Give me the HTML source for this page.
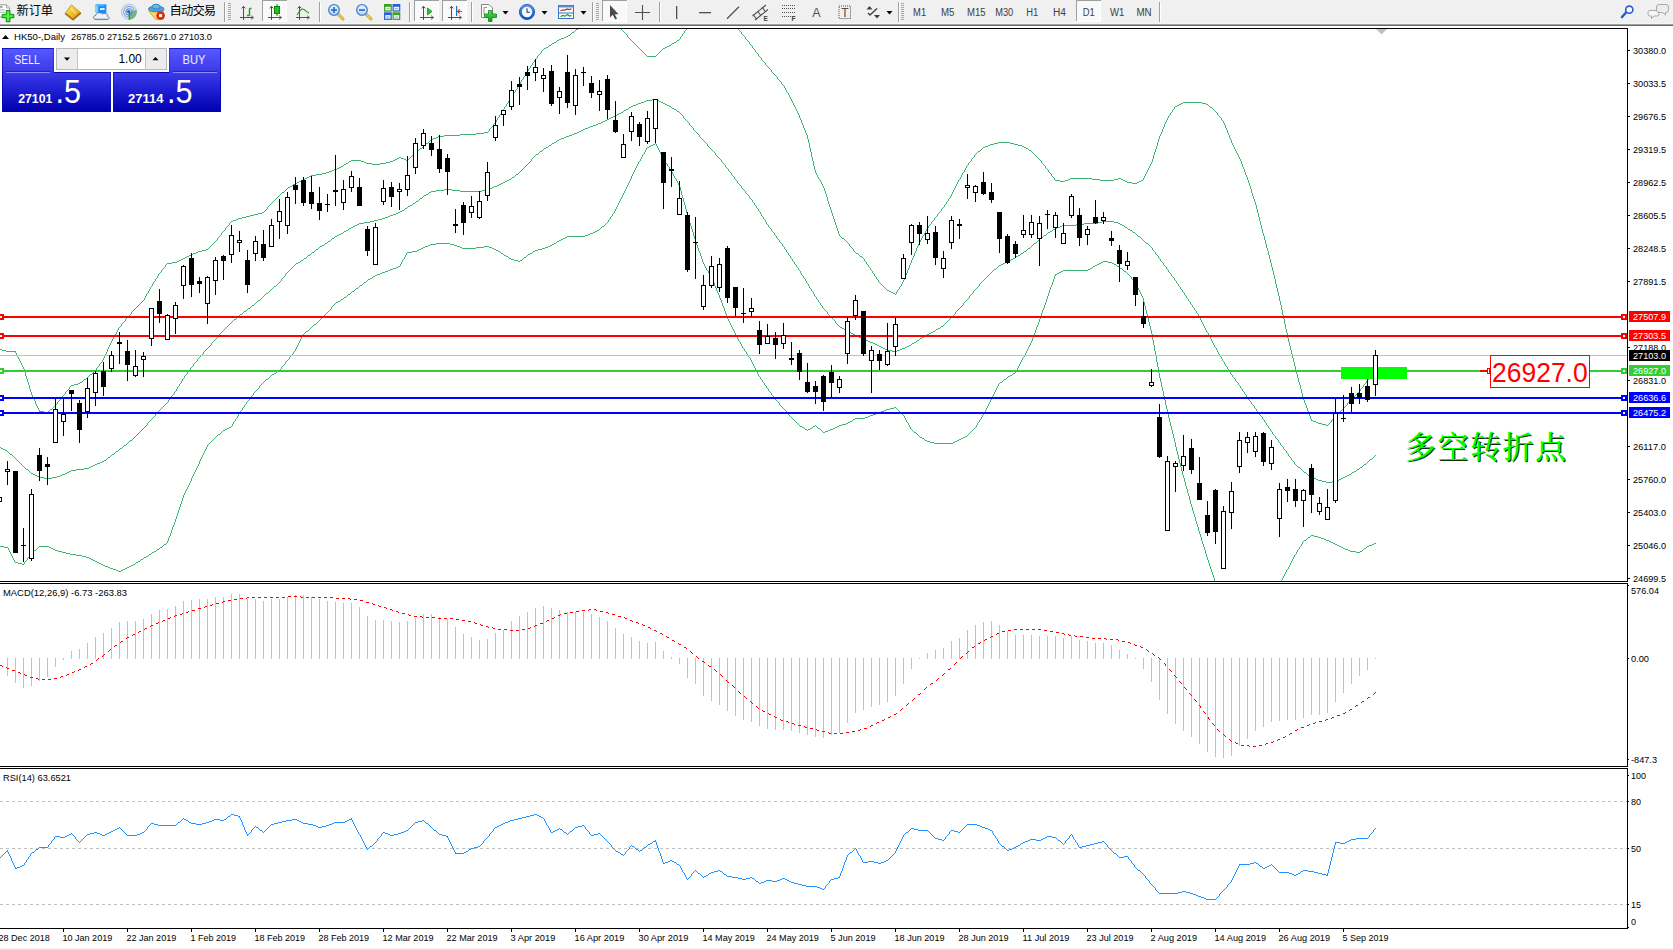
<!DOCTYPE html>
<html><head><meta charset="utf-8"><title>HK50-,Daily</title>
<style>
html,body{margin:0;padding:0;background:#fff;}
body{width:1673px;height:950px;overflow:hidden;}
svg{display:block;font-family:"Liberation Sans","Noto Sans CJK SC",sans-serif;}
text{white-space:pre;}
</style></head><body>
<svg width="1673" height="950" viewBox="0 0 1673 950">
<defs>
<clipPath id="cpMain"><rect x="0" y="29" width="1627" height="552"/></clipPath>

<linearGradient id="gBlueBall" x1="0" y1="0" x2="0" y2="1"><stop offset="0" stop-color="#5aa0f0"/><stop offset="1" stop-color="#0a4fc0"/></linearGradient>
<linearGradient id="gGold" x1="0" y1="0" x2="1" y2="1"><stop offset="0" stop-color="#ffe870"/><stop offset="0.5" stop-color="#f2c030"/><stop offset="1" stop-color="#d09010"/></linearGradient>
<linearGradient id="gGreen" x1="0" y1="0" x2="0" y2="1"><stop offset="0" stop-color="#5fe05f"/><stop offset="1" stop-color="#109a10"/></linearGradient>
<linearGradient id="gLens" x1="0" y1="0" x2="0" y2="1"><stop offset="0" stop-color="#eaf4ff"/><stop offset="1" stop-color="#b8d6f5"/></linearGradient>


<linearGradient id="gBtn" x1="0" y1="0" x2="0" y2="1"><stop offset="0" stop-color="#5858ff"/><stop offset="1" stop-color="#3838e6"/></linearGradient>
<linearGradient id="gPrice" x1="0" y1="0" x2="0" y2="1"><stop offset="0" stop-color="#3a3aea"/><stop offset="0.5" stop-color="#1c1cd0"/><stop offset="1" stop-color="#0000b0"/></linearGradient>

</defs>
<rect x="0" y="0" width="1673" height="950" fill="#fff"/>
<g clip-path="url(#cpMain)" fill="none" stroke="#3cb371" stroke-width="1" shape-rendering="crispEdges">
<path d="M716 12.5h4M710 13.5h6M720 13.5h2M706 14.5h4M722 14.5h1M703 15.5h3M723 15.5h1M701 16.5h2M724 16.5h2M700 17.5h1M726 17.5h1M604 18.5h4M698 18.5h2M727 18.5h1M596 19.5h8M608 19.5h2M696 19.5h2M728 19.5h1M591 20.5h5M610 20.5h1M695 20.5h1M729 20.5h1M589 21.5h2M611 21.5h1M694 21.5h1M730 21.5h2M587 22.5h2M612 22.5h2M693 22.5h1M732 22.5h1M585 23.5h2M614 23.5h1M692 23.5h1M733 23.5h1M583 24.5h2M615 24.5h1M690 24.5h2M734 24.5h1M582 25.5h1M616 25.5h1M689 25.5h1M735 25.5h1M580 26.5h2M617 26.5h1M688 26.5h1M736 26.5h1M579 27.5h1M618 27.5h2M687 27.5h1M737 27.5h1M578 28.5h1M620 28.5h1M686 28.5h1M737 28.5h1M576 29.5h2M621 29.5h1M686 29.5h1M738 29.5h1M575 30.5h1M622 30.5h1M685 30.5h1M739 30.5h1M574 31.5h1M623 31.5h1M684 31.5h1M740 31.5h1M572 32.5h2M624 32.5h1M684 32.5h1M741 32.5h1M571 33.5h1M625 33.5h1M683 33.5h1M741 33.5h1M570 34.5h1M626 34.5h1M682 34.5h1M742 34.5h1M568 35.5h2M627 35.5h1M682 35.5h1M743 35.5h1M566 36.5h2M627 36.5h1M681 36.5h1M744 36.5h1M564 37.5h2M628 37.5h1M680 37.5h1M745 37.5h1M561 38.5h3M629 38.5h1M680 38.5h1M745 38.5h1M559 39.5h2M630 39.5h1M679 39.5h1M746 39.5h1M557 40.5h2M631 40.5h1M677 40.5h2M747 40.5h1M556 41.5h1M632 41.5h1M676 41.5h1M748 41.5h1M554 42.5h2M633 42.5h1M674 42.5h2M749 42.5h1M552 43.5h2M634 43.5h1M672 43.5h2M749 43.5h1M551 44.5h1M635 44.5h1M671 44.5h1M750 44.5h1M549 45.5h2M636 45.5h1M669 45.5h2M751 45.5h1M548 46.5h1M637 46.5h1M667 46.5h2M752 46.5h1M546 47.5h2M638 47.5h1M665 47.5h2M752 47.5h1M544 48.5h2M639 48.5h1M663 48.5h2M753 48.5h1M543 49.5h1M640 49.5h1M662 49.5h1M754 49.5h1M542 50.5h1M641 50.5h1M661 50.5h1M755 50.5h1M541 51.5h1M642 51.5h1M660 51.5h1M755 51.5h1M541 52.5h1M643 52.5h1M659 52.5h1M756 52.5h1M540 53.5h1M644 53.5h1M658 53.5h1M757 53.5h1M539 54.5h1M645 54.5h1M657 54.5h1M758 54.5h1M538 55.5h1M646 55.5h1M656 55.5h1M758 55.5h1M537 56.5h1M647 56.5h9M759 56.5h1M537 57.5h1M760 57.5h1M536 58.5h1M761 58.5h1M535 59.5h1M761 59.5h1M534 60.5h1M762 60.5h1M534 61.5h1M763 61.5h1M533 62.5h1M764 62.5h1M532 63.5h1M765 63.5h1M532 64.5h1M765 64.5h1M531 65.5h1M766 65.5h1M530 66.5h1M767 66.5h1M530 67.5h1M768 67.5h1M529 68.5h1M769 68.5h1M528 69.5h1M770 69.5h1M528 70.5h1M771 70.5h1M527 71.5h1M771 71.5h1M526 72.5h1M772 72.5h1M526 73.5h1M773 73.5h1M525 74.5h1M774 74.5h1M525 75.5h1M775 75.5h1M524 76.5h1M776 76.5h1M523 77.5h1M777 77.5h1M523 78.5h1M777 78.5h1M522 79.5h1M778 79.5h1M521 80.5h1M779 80.5h1M521 81.5h1M780 81.5h1M520 82.5h1M781 82.5h1M520 83.5h1M781 83.5h1M519 84.5h1M782 84.5h1M518 85.5h1M783 85.5h1M518 86.5h1M784 86.5h1M517 87.5h1M784 87.5h1M517 88.5h1M785 88.5h1M516 89.5h1M785 89.5h1M515 90.5h1M786 90.5h1M515 91.5h1M786 91.5h1M514 92.5h1M787 92.5h1M513 93.5h1M788 93.5h1M513 94.5h1M788 94.5h1M512 95.5h1M789 95.5h1M512 96.5h1M789 96.5h1M511 97.5h1M790 97.5h1M510 98.5h1M790 98.5h1M510 99.5h1M791 99.5h1M509 100.5h1M791 100.5h1M508 101.5h1M792 101.5h1M508 102.5h1M792 102.5h1M1183 102.5h19M507 103.5h1M793 103.5h1M1181 103.5h2M1202 103.5h4M506 104.5h1M793 104.5h1M1179 104.5h2M1206 104.5h2M506 105.5h1M794 105.5h1M1177 105.5h2M1208 105.5h1M505 106.5h1M794 106.5h1M1175 106.5h2M1209 106.5h1M504 107.5h1M795 107.5h1M1174 107.5h1M1210 107.5h2M504 108.5h1M795 108.5h1M1174 108.5h1M1212 108.5h1M503 109.5h1M796 109.5h1M1173 109.5h1M1213 109.5h1M502 110.5h1M796 110.5h1M1172 110.5h1M1214 110.5h1M502 111.5h1M797 111.5h1M1172 111.5h1M1215 111.5h1M501 112.5h1M797 112.5h1M1171 112.5h1M1216 112.5h1M501 113.5h1M798 113.5h1M1170 113.5h1M1217 113.5h1M500 114.5h1M798 114.5h1M1170 114.5h1M1217 114.5h1M499 115.5h1M799 115.5h1M1169 115.5h1M1218 115.5h1M499 116.5h1M799 116.5h1M1168 116.5h1M1219 116.5h1M498 117.5h1M799 117.5h1M1168 117.5h1M1220 117.5h1M497 118.5h1M800 118.5h1M1167 118.5h1M1221 118.5h1M497 119.5h1M800 119.5h1M1167 119.5h1M1221 119.5h1M496 120.5h1M801 120.5h1M1166 120.5h1M1222 120.5h1M496 121.5h1M801 121.5h1M1166 121.5h1M1223 121.5h1M495 122.5h1M801 122.5h1M1165 122.5h1M1223 122.5h1M494 123.5h1M802 123.5h1M1165 123.5h1M1224 123.5h1M493 124.5h1M802 124.5h1M1164 124.5h1M1224 124.5h1M493 125.5h1M803 125.5h1M1164 125.5h1M1225 125.5h1M492 126.5h1M803 126.5h1M1164 126.5h1M1225 126.5h1M491 127.5h1M803 127.5h1M1163 127.5h1M1225 127.5h1M490 128.5h1M804 128.5h1M1163 128.5h1M1226 128.5h1M489 129.5h1M804 129.5h1M1162 129.5h1M1226 129.5h1M489 130.5h1M805 130.5h1M1162 130.5h1M1227 130.5h1M488 131.5h1M805 131.5h1M1162 131.5h1M1227 131.5h1M484 132.5h4M805 132.5h1M1161 132.5h1M1227 132.5h1M476 133.5h8M806 133.5h1M1161 133.5h1M1228 133.5h1M460 134.5h16M806 134.5h1M1160 134.5h1M1228 134.5h1M444 135.5h16M807 135.5h1M1160 135.5h1M1229 135.5h1M438 136.5h6M807 136.5h1M1159 136.5h1M1229 136.5h1M436 137.5h2M807 137.5h1M1159 137.5h1M1229 137.5h1M433 138.5h3M807 138.5h1M1159 138.5h1M1230 138.5h1M431 139.5h2M808 139.5h1M1158 139.5h1M1230 139.5h1M430 140.5h1M808 140.5h1M1158 140.5h1M1231 140.5h1M429 141.5h1M808 141.5h1M1158 141.5h1M1231 141.5h1M428 142.5h1M808 142.5h1M998 142.5h12M1157 142.5h1M1231 142.5h1M426 143.5h2M809 143.5h1M994 143.5h4M1010 143.5h4M1157 143.5h1M1232 143.5h1M425 144.5h1M809 144.5h1M990 144.5h4M1014 144.5h4M1157 144.5h1M1232 144.5h1M424 145.5h1M809 145.5h1M988 145.5h2M1018 145.5h4M1157 145.5h1M1233 145.5h1M423 146.5h1M809 146.5h1M985 146.5h3M1022 146.5h2M1156 146.5h1M1233 146.5h1M422 147.5h1M809 147.5h1M983 147.5h2M1024 147.5h2M1156 147.5h1M1234 147.5h1M420 148.5h2M810 148.5h1M982 148.5h1M1026 148.5h2M1156 148.5h1M1234 148.5h1M419 149.5h1M810 149.5h1M981 149.5h1M1028 149.5h1M1155 149.5h1M1235 149.5h1M418 150.5h1M810 150.5h1M980 150.5h1M1029 150.5h2M1155 150.5h1M1235 150.5h1M416 151.5h2M810 151.5h1M978 151.5h2M1031 151.5h1M1155 151.5h1M1236 151.5h1M415 152.5h1M811 152.5h1M977 152.5h1M1032 152.5h1M1154 152.5h1M1236 152.5h1M414 153.5h1M811 153.5h1M976 153.5h1M1033 153.5h1M1154 153.5h1M1237 153.5h1M413 154.5h1M811 154.5h1M975 154.5h1M1034 154.5h1M1154 154.5h1M1237 154.5h1M412 155.5h1M811 155.5h1M974 155.5h1M1035 155.5h1M1153 155.5h1M1238 155.5h1M411 156.5h1M811 156.5h1M974 156.5h1M1036 156.5h1M1153 156.5h1M1238 156.5h1M399 157.5h2M410 157.5h1M812 157.5h1M973 157.5h1M1037 157.5h1M1153 157.5h1M1239 157.5h1M397 158.5h2M401 158.5h3M409 158.5h1M812 158.5h1M972 158.5h1M1038 158.5h1M1153 158.5h1M1239 158.5h1M395 159.5h2M404 159.5h2M408 159.5h1M812 159.5h1M971 159.5h1M1039 159.5h1M1152 159.5h1M1240 159.5h1M351 160.5h10M393 160.5h2M406 160.5h2M812 160.5h1M971 160.5h1M1040 160.5h1M1152 160.5h1M1240 160.5h1M349 161.5h2M361 161.5h3M390 161.5h3M813 161.5h1M970 161.5h1M1041 161.5h1M1152 161.5h1M1241 161.5h1M348 162.5h1M364 162.5h2M386 162.5h4M813 162.5h1M969 162.5h1M1041 162.5h1M1151 162.5h1M1241 162.5h1M346 163.5h2M366 163.5h6M380 163.5h6M813 163.5h1M968 163.5h1M1042 163.5h1M1151 163.5h1M1241 163.5h1M344 164.5h2M372 164.5h8M813 164.5h1M968 164.5h1M1043 164.5h1M1150 164.5h1M1242 164.5h1M343 165.5h1M813 165.5h1M967 165.5h1M1044 165.5h1M1150 165.5h1M1242 165.5h1M341 166.5h2M814 166.5h1M966 166.5h1M1045 166.5h1M1149 166.5h1M1242 166.5h1M339 167.5h2M814 167.5h1M966 167.5h1M1045 167.5h1M1149 167.5h1M1243 167.5h1M337 168.5h2M814 168.5h1M965 168.5h1M1046 168.5h1M1148 168.5h1M1243 168.5h1M334 169.5h3M814 169.5h1M965 169.5h1M1047 169.5h1M1148 169.5h1M1244 169.5h1M332 170.5h2M815 170.5h1M964 170.5h1M1048 170.5h1M1147 170.5h1M1244 170.5h1M329 171.5h3M815 171.5h1M964 171.5h1M1048 171.5h1M1147 171.5h1M1244 171.5h1M326 172.5h3M815 172.5h1M963 172.5h1M1049 172.5h1M1146 172.5h1M1245 172.5h1M322 173.5h4M816 173.5h1M962 173.5h1M1050 173.5h1M1146 173.5h1M1245 173.5h1M316 174.5h6M816 174.5h1M962 174.5h1M1051 174.5h1M1145 174.5h1M1245 174.5h1M311 175.5h5M817 175.5h1M961 175.5h1M1051 175.5h1M1145 175.5h1M1246 175.5h1M309 176.5h2M817 176.5h1M961 176.5h1M1052 176.5h1M1144 176.5h1M1246 176.5h1M307 177.5h2M818 177.5h1M960 177.5h1M1053 177.5h1M1144 177.5h1M1247 177.5h1M305 178.5h2M818 178.5h1M960 178.5h1M1054 178.5h1M1070 178.5h22M1118 178.5h3M1143 178.5h1M1247 178.5h1M303 179.5h2M819 179.5h1M959 179.5h1M1054 179.5h1M1068 179.5h2M1092 179.5h8M1114 179.5h4M1121 179.5h2M1143 179.5h1M1247 179.5h1M301 180.5h2M820 180.5h1M958 180.5h1M1055 180.5h5M1065 180.5h3M1100 180.5h14M1123 180.5h2M1141 180.5h2M1248 180.5h1M299 181.5h2M820 181.5h1M958 181.5h1M1060 181.5h5M1125 181.5h2M1139 181.5h2M1248 181.5h1M297 182.5h2M821 182.5h1M957 182.5h1M1127 182.5h5M1137 182.5h2M1248 182.5h1M295 183.5h2M821 183.5h1M957 183.5h1M1132 183.5h5M1249 183.5h1M293 184.5h2M822 184.5h1M956 184.5h1M1249 184.5h1M292 185.5h1M822 185.5h1M956 185.5h1M1249 185.5h1M290 186.5h2M823 186.5h1M955 186.5h1M1250 186.5h1M288 187.5h2M823 187.5h1M955 187.5h1M1250 187.5h1M287 188.5h1M824 188.5h1M954 188.5h1M1250 188.5h1M286 189.5h1M824 189.5h1M954 189.5h1M1251 189.5h1M285 190.5h1M824 190.5h1M953 190.5h1M1251 190.5h1M284 191.5h1M825 191.5h1M953 191.5h1M1251 191.5h1M282 192.5h2M825 192.5h1M952 192.5h1M1251 192.5h1M281 193.5h1M825 193.5h1M952 193.5h1M1252 193.5h1M280 194.5h1M826 194.5h1M951 194.5h1M1252 194.5h1M279 195.5h1M826 195.5h1M951 195.5h1M1252 195.5h1M278 196.5h1M826 196.5h1M950 196.5h1M1253 196.5h1M277 197.5h1M827 197.5h1M950 197.5h1M1253 197.5h1M276 198.5h1M827 198.5h1M949 198.5h1M1253 198.5h1M275 199.5h1M827 199.5h1M948 199.5h1M1254 199.5h1M274 200.5h1M827 200.5h1M948 200.5h1M1254 200.5h1M273 201.5h1M828 201.5h1M947 201.5h1M1254 201.5h1M272 202.5h1M828 202.5h1M946 202.5h1M1255 202.5h1M271 203.5h1M828 203.5h1M946 203.5h1M1255 203.5h1M270 204.5h1M829 204.5h1M945 204.5h1M1255 204.5h1M269 205.5h1M829 205.5h1M944 205.5h1M1256 205.5h1M268 206.5h1M829 206.5h1M944 206.5h1M1256 206.5h1M267 207.5h1M830 207.5h1M943 207.5h1M1256 207.5h1M267 208.5h1M830 208.5h1M942 208.5h1M1256 208.5h1M266 209.5h1M830 209.5h1M941 209.5h1M1257 209.5h1M265 210.5h1M831 210.5h1M941 210.5h1M1257 210.5h1M264 211.5h1M831 211.5h1M940 211.5h1M1257 211.5h1M262 212.5h2M831 212.5h1M939 212.5h1M1257 212.5h1M258 213.5h4M832 213.5h1M938 213.5h1M1258 213.5h1M254 214.5h4M832 214.5h1M937 214.5h1M1258 214.5h1M250 215.5h4M832 215.5h1M937 215.5h1M1258 215.5h1M246 216.5h4M833 216.5h1M936 216.5h1M1258 216.5h1M242 217.5h4M833 217.5h1M935 217.5h1M1259 217.5h1M238 218.5h4M833 218.5h1M934 218.5h1M1259 218.5h1M236 219.5h2M834 219.5h1M934 219.5h1M1259 219.5h1M233 220.5h3M834 220.5h1M933 220.5h1M1259 220.5h1M231 221.5h2M834 221.5h1M932 221.5h1M1260 221.5h1M230 222.5h1M835 222.5h1M931 222.5h1M1260 222.5h1M229 223.5h1M835 223.5h1M931 223.5h1M1260 223.5h1M229 224.5h1M835 224.5h1M930 224.5h1M1260 224.5h1M228 225.5h1M836 225.5h1M929 225.5h1M1261 225.5h1M227 226.5h1M836 226.5h1M928 226.5h1M1261 226.5h1M226 227.5h1M836 227.5h1M928 227.5h1M1261 227.5h1M225 228.5h1M837 228.5h1M927 228.5h1M1261 228.5h1M225 229.5h1M837 229.5h1M926 229.5h1M1262 229.5h1M224 230.5h1M837 230.5h1M926 230.5h1M1262 230.5h1M223 231.5h1M838 231.5h1M925 231.5h1M1262 231.5h1M222 232.5h1M838 232.5h1M925 232.5h1M1262 232.5h1M221 233.5h1M838 233.5h1M924 233.5h1M1263 233.5h1M221 234.5h1M839 234.5h1M924 234.5h1M1263 234.5h1M220 235.5h1M839 235.5h1M923 235.5h1M1263 235.5h1M219 236.5h1M840 236.5h1M922 236.5h1M1264 236.5h1M218 237.5h1M841 237.5h1M922 237.5h1M1264 237.5h1M217 238.5h1M842 238.5h2M921 238.5h1M1264 238.5h1M217 239.5h1M844 239.5h1M921 239.5h1M1264 239.5h1M216 240.5h1M845 240.5h1M920 240.5h1M1265 240.5h1M215 241.5h1M846 241.5h1M920 241.5h1M1265 241.5h1M214 242.5h1M847 242.5h1M919 242.5h1M1265 242.5h1M213 243.5h1M848 243.5h1M919 243.5h1M1265 243.5h1M212 244.5h1M849 244.5h1M918 244.5h1M1266 244.5h1M211 245.5h1M849 245.5h1M918 245.5h1M1266 245.5h1M210 246.5h1M850 246.5h1M917 246.5h1M1266 246.5h1M209 247.5h1M851 247.5h1M917 247.5h1M1266 247.5h1M208 248.5h1M852 248.5h1M916 248.5h1M1267 248.5h1M206 249.5h2M853 249.5h1M916 249.5h1M1267 249.5h1M202 250.5h4M853 250.5h1M916 250.5h1M1267 250.5h1M198 251.5h4M854 251.5h1M915 251.5h1M1268 251.5h1M196 252.5h2M855 252.5h1M915 252.5h1M1268 252.5h1M193 253.5h3M856 253.5h2M914 253.5h1M1268 253.5h1M191 254.5h2M858 254.5h1M914 254.5h1M1268 254.5h1M189 255.5h2M859 255.5h1M914 255.5h1M1269 255.5h1M187 256.5h2M860 256.5h2M913 256.5h1M1269 256.5h1M185 257.5h2M862 257.5h1M913 257.5h1M1269 257.5h1M183 258.5h2M863 258.5h1M912 258.5h1M1269 258.5h1M181 259.5h2M864 259.5h1M912 259.5h1M1270 259.5h1M179 260.5h2M864 260.5h1M911 260.5h1M1270 260.5h1M177 261.5h2M865 261.5h1M911 261.5h1M1270 261.5h1M172 262.5h5M866 262.5h1M911 262.5h1M1270 262.5h1M167 263.5h5M866 263.5h1M910 263.5h1M1271 263.5h1M166 264.5h1M867 264.5h1M910 264.5h1M1271 264.5h1M165 265.5h1M868 265.5h1M909 265.5h1M1271 265.5h1M165 266.5h1M868 266.5h1M909 266.5h1M1271 266.5h1M164 267.5h1M869 267.5h1M909 267.5h1M1272 267.5h1M163 268.5h1M870 268.5h1M908 268.5h1M1272 268.5h1M162 269.5h1M870 269.5h1M908 269.5h1M1272 269.5h1M161 270.5h1M871 270.5h1M907 270.5h1M1272 270.5h1M161 271.5h1M872 271.5h1M907 271.5h1M1273 271.5h1M160 272.5h1M872 272.5h1M907 272.5h1M1273 272.5h1M159 273.5h1M873 273.5h1M906 273.5h1M1273 273.5h1M158 274.5h1M874 274.5h1M906 274.5h1M1273 274.5h1M158 275.5h1M874 275.5h1M905 275.5h1M1274 275.5h1M157 276.5h1M875 276.5h1M905 276.5h1M1274 276.5h1M157 277.5h1M876 277.5h1M905 277.5h1M1274 277.5h1M156 278.5h1M876 278.5h1M904 278.5h1M1274 278.5h1M155 279.5h1M877 279.5h1M904 279.5h1M1275 279.5h1M155 280.5h1M878 280.5h1M903 280.5h1M1275 280.5h1M154 281.5h1M878 281.5h1M903 281.5h1M1275 281.5h1M153 282.5h1M879 282.5h1M902 282.5h1M1275 282.5h1M153 283.5h1M880 283.5h1M902 283.5h1M1275 283.5h1M152 284.5h1M881 284.5h1M901 284.5h1M1276 284.5h1M152 285.5h1M882 285.5h1M901 285.5h1M1276 285.5h1M151 286.5h1M883 286.5h1M900 286.5h1M1276 286.5h1M150 287.5h1M884 287.5h1M899 287.5h1M1276 287.5h1M150 288.5h1M885 288.5h1M899 288.5h1M1277 288.5h1M149 289.5h1M886 289.5h1M898 289.5h1M1277 289.5h1M149 290.5h1M887 290.5h2M897 290.5h1M1277 290.5h1M148 291.5h1M889 291.5h2M897 291.5h1M1277 291.5h1M148 292.5h1M891 292.5h2M896 292.5h1M1278 292.5h1M147 293.5h1M893 293.5h2M896 293.5h1M1278 293.5h1M146 294.5h1M895 294.5h1M1278 294.5h1M146 295.5h1M1278 295.5h1M145 296.5h1M1279 296.5h1M145 297.5h1M1279 297.5h1M144 298.5h1M1279 298.5h1M144 299.5h1M1279 299.5h1M143 300.5h1M1279 300.5h1M142 301.5h1M1280 301.5h1M141 302.5h1M1280 302.5h1M140 303.5h1M1280 303.5h1M139 304.5h1M1280 304.5h1M138 305.5h1M1281 305.5h1M137 306.5h1M1281 306.5h1M136 307.5h1M1281 307.5h1M135 308.5h1M1281 308.5h1M134 309.5h1M1281 309.5h1M133 310.5h1M1282 310.5h1M132 311.5h1M1282 311.5h1M131 312.5h1M1282 312.5h1M131 313.5h1M1282 313.5h1M130 314.5h1M1282 314.5h1M129 315.5h1M1283 315.5h1M128 316.5h1M1283 316.5h1M127 317.5h1M1283 317.5h1M126 318.5h1M1283 318.5h1M125 319.5h1M1284 319.5h1M125 320.5h1M1284 320.5h1M124 321.5h1M1284 321.5h1M123 322.5h1M1284 322.5h1M122 323.5h1M1284 323.5h1M121 324.5h1M1285 324.5h1M121 325.5h1M1285 325.5h1M120 326.5h1M1285 326.5h1M119 327.5h1M1285 327.5h1M118 328.5h1M1285 328.5h1M118 329.5h1M1286 329.5h1M117 330.5h1M1286 330.5h1M117 331.5h1M1286 331.5h1M116 332.5h1M1286 332.5h1M116 333.5h1M1287 333.5h1M115 334.5h1M1287 334.5h1M114 335.5h1M1287 335.5h1M114 336.5h1M1287 336.5h1M113 337.5h1M1287 337.5h1M113 338.5h1M1288 338.5h1M112 339.5h1M1288 339.5h1M112 340.5h1M1288 340.5h1M111 341.5h1M1288 341.5h1M111 342.5h1M1289 342.5h1M110 343.5h1M1289 343.5h1M110 344.5h1M1289 344.5h1M109 345.5h1M1289 345.5h1M109 346.5h1M1290 346.5h1M108 347.5h1M1290 347.5h1M108 348.5h1M1290 348.5h1M-1 349.5h3M107 349.5h1M1290 349.5h1M2 350.5h4M107 350.5h1M1291 350.5h1M6 351.5h10M107 351.5h1M1291 351.5h1M15 352.5h1M106 352.5h1M1291 352.5h1M16 353.5h1M106 353.5h1M1291 353.5h1M16 354.5h1M105 354.5h1M1292 354.5h1M17 355.5h1M105 355.5h1M1292 355.5h1M17 356.5h1M104 356.5h1M1292 356.5h1M18 357.5h1M104 357.5h1M1292 357.5h1M18 358.5h1M103 358.5h1M1293 358.5h1M19 359.5h1M103 359.5h1M1293 359.5h1M19 360.5h1M102 360.5h1M1293 360.5h1M20 361.5h1M102 361.5h1M1293 361.5h1M20 362.5h1M101 362.5h1M1294 362.5h1M21 363.5h1M100 363.5h1M1294 363.5h1M21 364.5h1M99 364.5h1M1294 364.5h1M22 365.5h1M99 365.5h1M1294 365.5h1M22 366.5h1M98 366.5h1M1295 366.5h1M23 367.5h1M97 367.5h1M1295 367.5h1M23 368.5h1M96 368.5h1M1295 368.5h1M24 369.5h1M96 369.5h1M1295 369.5h1M24 370.5h1M95 370.5h1M1296 370.5h1M1375 370.5h1M24 371.5h1M94 371.5h1M1296 371.5h1M1374 371.5h1M25 372.5h1M93 372.5h1M1296 372.5h1M1373 372.5h1M25 373.5h1M92 373.5h1M1296 373.5h1M1373 373.5h1M25 374.5h1M90 374.5h2M1297 374.5h1M1372 374.5h1M25 375.5h1M89 375.5h1M1297 375.5h1M1371 375.5h1M26 376.5h1M88 376.5h1M1297 376.5h1M1370 376.5h1M26 377.5h1M87 377.5h1M1297 377.5h1M1369 377.5h1M26 378.5h1M86 378.5h1M1298 378.5h1M1369 378.5h1M27 379.5h1M84 379.5h2M1298 379.5h1M1368 379.5h1M27 380.5h1M83 380.5h1M1298 380.5h1M1367 380.5h1M27 381.5h1M82 381.5h1M1298 381.5h1M1366 381.5h1M28 382.5h1M80 382.5h2M1299 382.5h1M1366 382.5h1M28 383.5h1M78 383.5h2M1299 383.5h1M1365 383.5h1M28 384.5h1M74 384.5h4M1299 384.5h1M1364 384.5h1M29 385.5h1M71 385.5h3M1300 385.5h1M1363 385.5h1M29 386.5h1M70 386.5h1M1300 386.5h1M1363 386.5h1M29 387.5h1M69 387.5h1M1300 387.5h1M1362 387.5h1M29 388.5h1M69 388.5h1M1300 388.5h1M1361 388.5h1M30 389.5h1M68 389.5h1M1301 389.5h1M1360 389.5h1M30 390.5h1M67 390.5h1M1301 390.5h1M1360 390.5h1M30 391.5h1M66 391.5h1M1301 391.5h1M1359 391.5h1M31 392.5h1M65 392.5h1M1301 392.5h1M1358 392.5h1M31 393.5h1M65 393.5h1M1302 393.5h1M1357 393.5h1M31 394.5h1M64 394.5h1M1302 394.5h1M1356 394.5h1M32 395.5h1M63 395.5h1M1302 395.5h1M1355 395.5h1M32 396.5h1M62 396.5h1M1302 396.5h1M1354 396.5h1M33 397.5h1M61 397.5h1M1303 397.5h1M1353 397.5h1M33 398.5h1M61 398.5h1M1303 398.5h1M1352 398.5h1M34 399.5h1M60 399.5h1M1303 399.5h1M1351 399.5h1M34 400.5h1M59 400.5h1M1304 400.5h1M1350 400.5h1M35 401.5h1M58 401.5h1M1304 401.5h1M1349 401.5h1M35 402.5h1M57 402.5h1M1304 402.5h1M1348 402.5h1M35 403.5h1M57 403.5h1M1305 403.5h1M1347 403.5h1M36 404.5h1M56 404.5h1M1305 404.5h1M1347 404.5h1M36 405.5h1M55 405.5h1M1306 405.5h1M1346 405.5h1M37 406.5h1M54 406.5h1M1306 406.5h1M1345 406.5h1M37 407.5h1M53 407.5h1M1306 407.5h1M1344 407.5h1M38 408.5h1M52 408.5h1M1307 408.5h1M1343 408.5h1M38 409.5h1M50 409.5h2M1307 409.5h1M1342 409.5h1M39 410.5h1M49 410.5h1M1307 410.5h1M1341 410.5h1M39 411.5h5M48 411.5h1M1308 411.5h1M1340 411.5h1M44 412.5h4M1308 412.5h1M1339 412.5h1M1308 413.5h1M1338 413.5h1M1309 414.5h1M1337 414.5h1M1309 415.5h1M1336 415.5h1M1310 416.5h1M1335 416.5h1M1310 417.5h1M1334 417.5h1M1310 418.5h1M1333 418.5h1M1311 419.5h1M1332 419.5h1M1311 420.5h2M1331 420.5h1M1313 421.5h3M1331 421.5h1M1316 422.5h2M1330 422.5h1M1318 423.5h4M1329 423.5h1M1322 424.5h4M1328 424.5h1M1326 425.5h2"/>
<path d="M652 99.5h5M646 100.5h6M657 100.5h2M644 101.5h2M659 101.5h2M641 102.5h3M661 102.5h2M638 103.5h3M663 103.5h2M636 104.5h2M665 104.5h2M633 105.5h3M667 105.5h2M631 106.5h2M669 106.5h2M629 107.5h2M671 107.5h1M628 108.5h1M672 108.5h2M626 109.5h2M674 109.5h2M624 110.5h2M676 110.5h1M623 111.5h1M677 111.5h2M621 112.5h2M679 112.5h1M619 113.5h2M680 113.5h1M617 114.5h2M681 114.5h1M615 115.5h2M682 115.5h1M613 116.5h2M683 116.5h1M611 117.5h2M683 117.5h1M609 118.5h2M684 118.5h1M607 119.5h2M685 119.5h1M605 120.5h2M686 120.5h1M603 121.5h2M687 121.5h1M601 122.5h2M688 122.5h1M598 123.5h3M689 123.5h1M596 124.5h2M689 124.5h1M593 125.5h3M690 125.5h1M590 126.5h3M691 126.5h1M588 127.5h2M692 127.5h1M585 128.5h3M693 128.5h1M583 129.5h2M693 129.5h1M581 130.5h2M694 130.5h1M579 131.5h2M695 131.5h1M577 132.5h2M696 132.5h1M574 133.5h3M697 133.5h1M572 134.5h2M698 134.5h1M569 135.5h3M699 135.5h1M566 136.5h3M699 136.5h1M564 137.5h2M700 137.5h1M561 138.5h3M701 138.5h1M559 139.5h2M702 139.5h1M557 140.5h2M703 140.5h1M556 141.5h1M704 141.5h1M554 142.5h2M705 142.5h1M552 143.5h2M706 143.5h1M551 144.5h1M707 144.5h1M549 145.5h2M707 145.5h1M548 146.5h1M708 146.5h1M546 147.5h2M709 147.5h1M544 148.5h2M710 148.5h1M543 149.5h1M711 149.5h1M542 150.5h1M712 150.5h1M540 151.5h2M713 151.5h1M539 152.5h1M714 152.5h1M538 153.5h1M715 153.5h1M536 154.5h2M715 154.5h1M535 155.5h1M716 155.5h1M534 156.5h1M717 156.5h1M533 157.5h1M718 157.5h1M532 158.5h1M719 158.5h1M531 159.5h1M720 159.5h1M531 160.5h1M721 160.5h1M530 161.5h1M721 161.5h1M529 162.5h1M722 162.5h1M528 163.5h1M723 163.5h1M527 164.5h1M724 164.5h1M526 165.5h1M725 165.5h1M525 166.5h1M725 166.5h1M524 167.5h1M726 167.5h1M523 168.5h1M727 168.5h1M522 169.5h1M728 169.5h1M521 170.5h1M728 170.5h1M520 171.5h1M729 171.5h1M519 172.5h1M730 172.5h1M518 173.5h1M731 173.5h1M516 174.5h2M731 174.5h1M515 175.5h1M732 175.5h1M514 176.5h1M733 176.5h1M512 177.5h2M734 177.5h1M511 178.5h1M734 178.5h1M509 179.5h2M735 179.5h1M507 180.5h2M736 180.5h1M505 181.5h2M737 181.5h1M503 182.5h2M737 182.5h1M501 183.5h2M738 183.5h1M499 184.5h2M739 184.5h1M497 185.5h2M740 185.5h1M494 186.5h3M741 186.5h1M492 187.5h2M741 187.5h1M489 188.5h3M742 188.5h1M444 189.5h8M486 189.5h3M743 189.5h1M436 190.5h8M452 190.5h8M482 190.5h4M744 190.5h1M431 191.5h5M460 191.5h22M745 191.5h1M429 192.5h2M745 192.5h1M428 193.5h1M746 193.5h1M426 194.5h2M747 194.5h1M424 195.5h2M748 195.5h1M423 196.5h1M749 196.5h1M422 197.5h1M749 197.5h1M420 198.5h2M750 198.5h1M419 199.5h1M751 199.5h1M418 200.5h1M752 200.5h1M416 201.5h2M752 201.5h1M415 202.5h1M753 202.5h1M413 203.5h2M754 203.5h1M412 204.5h1M754 204.5h1M410 205.5h2M755 205.5h1M408 206.5h2M756 206.5h1M407 207.5h1M756 207.5h1M405 208.5h2M757 208.5h1M404 209.5h1M758 209.5h1M402 210.5h2M758 210.5h1M400 211.5h2M759 211.5h1M398 212.5h2M760 212.5h1M396 213.5h2M760 213.5h1M393 214.5h3M761 214.5h1M390 215.5h3M761 215.5h1M388 216.5h2M762 216.5h1M385 217.5h3M763 217.5h1M382 218.5h3M763 218.5h1M378 219.5h4M764 219.5h1M374 220.5h4M765 220.5h1M370 221.5h4M765 221.5h1M1102 221.5h12M364 222.5h6M766 222.5h1M1098 222.5h4M1114 222.5h4M359 223.5h5M766 223.5h1M1084 223.5h14M1118 223.5h2M357 224.5h2M767 224.5h1M1076 224.5h8M1120 224.5h2M355 225.5h2M768 225.5h1M1062 225.5h14M1122 225.5h2M353 226.5h2M768 226.5h1M1060 226.5h2M1124 226.5h1M351 227.5h2M769 227.5h1M1057 227.5h3M1125 227.5h2M349 228.5h2M770 228.5h1M1055 228.5h2M1127 228.5h1M348 229.5h1M771 229.5h1M1053 229.5h2M1128 229.5h2M346 230.5h2M771 230.5h1M1052 230.5h1M1130 230.5h2M344 231.5h2M772 231.5h1M1050 231.5h2M1132 231.5h1M343 232.5h1M773 232.5h1M1048 232.5h2M1133 232.5h2M341 233.5h2M774 233.5h1M1047 233.5h1M1135 233.5h1M339 234.5h2M774 234.5h1M1046 234.5h1M1136 234.5h1M337 235.5h2M775 235.5h1M1044 235.5h2M1137 235.5h1M335 236.5h2M776 236.5h1M1043 236.5h1M1138 236.5h2M334 237.5h1M776 237.5h1M1042 237.5h1M1140 237.5h1M332 238.5h2M777 238.5h1M1040 238.5h2M1141 238.5h1M331 239.5h1M778 239.5h1M1039 239.5h1M1142 239.5h1M330 240.5h1M779 240.5h1M1038 240.5h1M1143 240.5h1M328 241.5h2M779 241.5h1M1037 241.5h1M1144 241.5h1M327 242.5h1M780 242.5h1M1036 242.5h1M1145 242.5h1M325 243.5h2M781 243.5h1M1034 243.5h2M1146 243.5h2M324 244.5h1M782 244.5h1M1033 244.5h1M1148 244.5h1M322 245.5h2M782 245.5h1M1032 245.5h1M1149 245.5h1M320 246.5h2M783 246.5h1M1031 246.5h1M1150 246.5h1M319 247.5h1M784 247.5h1M1030 247.5h1M1151 247.5h1M318 248.5h1M784 248.5h1M1028 248.5h2M1152 248.5h1M316 249.5h2M785 249.5h1M1027 249.5h1M1152 249.5h1M315 250.5h1M786 250.5h1M1026 250.5h1M1153 250.5h1M314 251.5h1M786 251.5h1M1024 251.5h2M1154 251.5h1M312 252.5h2M787 252.5h1M1023 252.5h1M1155 252.5h1M311 253.5h1M788 253.5h1M1021 253.5h2M1155 253.5h1M310 254.5h1M788 254.5h1M1020 254.5h1M1156 254.5h1M308 255.5h2M789 255.5h1M1018 255.5h2M1157 255.5h1M307 256.5h1M790 256.5h1M1016 256.5h2M1158 256.5h1M306 257.5h1M790 257.5h1M1015 257.5h1M1158 257.5h1M304 258.5h2M791 258.5h1M1013 258.5h2M1159 258.5h1M303 259.5h1M792 259.5h1M1011 259.5h2M1160 259.5h1M301 260.5h2M792 260.5h1M1009 260.5h2M1160 260.5h1M300 261.5h1M793 261.5h1M1007 261.5h2M1161 261.5h1M298 262.5h2M794 262.5h1M1005 262.5h2M1162 262.5h1M296 263.5h2M794 263.5h1M1003 263.5h2M1163 263.5h1M295 264.5h1M795 264.5h1M1001 264.5h2M1163 264.5h1M294 265.5h1M796 265.5h1M999 265.5h2M1164 265.5h1M293 266.5h1M796 266.5h1M998 266.5h1M1165 266.5h1M292 267.5h1M797 267.5h1M997 267.5h1M1166 267.5h1M291 268.5h1M798 268.5h1M996 268.5h1M1166 268.5h1M290 269.5h1M798 269.5h1M994 269.5h2M1167 269.5h1M289 270.5h1M799 270.5h1M993 270.5h1M1168 270.5h1M288 271.5h1M800 271.5h1M992 271.5h1M1168 271.5h1M287 272.5h1M800 272.5h1M991 272.5h1M1169 272.5h1M286 273.5h1M801 273.5h1M990 273.5h1M1170 273.5h1M285 274.5h1M801 274.5h1M989 274.5h1M1171 274.5h1M285 275.5h1M802 275.5h1M988 275.5h1M1171 275.5h1M284 276.5h1M803 276.5h1M987 276.5h1M1172 276.5h1M283 277.5h1M803 277.5h1M986 277.5h1M1173 277.5h1M282 278.5h1M804 278.5h1M985 278.5h1M1174 278.5h1M281 279.5h1M805 279.5h1M984 279.5h1M1174 279.5h1M281 280.5h1M805 280.5h1M983 280.5h1M1175 280.5h1M280 281.5h1M806 281.5h1M982 281.5h1M1176 281.5h1M279 282.5h1M806 282.5h1M981 282.5h1M1176 282.5h1M278 283.5h1M807 283.5h1M980 283.5h1M1177 283.5h1M277 284.5h1M808 284.5h1M979 284.5h1M1178 284.5h1M276 285.5h1M808 285.5h1M979 285.5h1M1178 285.5h1M274 286.5h2M809 286.5h1M978 286.5h1M1179 286.5h1M273 287.5h1M809 287.5h1M977 287.5h1M1180 287.5h1M272 288.5h1M810 288.5h1M976 288.5h1M1180 288.5h1M271 289.5h1M811 289.5h1M975 289.5h1M1181 289.5h1M270 290.5h1M811 290.5h1M974 290.5h1M1182 290.5h1M269 291.5h1M812 291.5h1M973 291.5h1M1182 291.5h1M268 292.5h1M813 292.5h1M973 292.5h1M1183 292.5h1M266 293.5h2M813 293.5h1M972 293.5h1M1184 293.5h1M265 294.5h1M814 294.5h1M971 294.5h1M1184 294.5h1M264 295.5h1M814 295.5h1M970 295.5h1M1185 295.5h1M263 296.5h1M815 296.5h1M969 296.5h1M1186 296.5h1M262 297.5h1M816 297.5h1M969 297.5h1M1186 297.5h1M261 298.5h1M816 298.5h1M968 298.5h1M1187 298.5h1M260 299.5h1M817 299.5h1M967 299.5h1M1188 299.5h1M258 300.5h2M818 300.5h1M966 300.5h1M1188 300.5h1M257 301.5h1M818 301.5h1M965 301.5h1M1189 301.5h1M256 302.5h1M819 302.5h1M964 302.5h1M1190 302.5h1M255 303.5h1M820 303.5h1M963 303.5h1M1190 303.5h1M254 304.5h1M820 304.5h1M963 304.5h1M1191 304.5h1M252 305.5h2M821 305.5h1M962 305.5h1M1192 305.5h1M251 306.5h1M822 306.5h1M961 306.5h1M1192 306.5h1M250 307.5h1M822 307.5h1M960 307.5h1M1193 307.5h1M248 308.5h2M823 308.5h1M959 308.5h1M1194 308.5h1M247 309.5h1M824 309.5h1M958 309.5h1M1194 309.5h1M246 310.5h1M825 310.5h1M957 310.5h1M1195 310.5h1M244 311.5h2M826 311.5h1M956 311.5h1M1196 311.5h1M243 312.5h1M827 312.5h1M955 312.5h1M1196 312.5h1M242 313.5h1M827 313.5h1M955 313.5h1M1197 313.5h1M240 314.5h2M828 314.5h1M954 314.5h1M1198 314.5h1M239 315.5h1M829 315.5h1M953 315.5h1M1198 315.5h1M238 316.5h1M830 316.5h1M952 316.5h1M1199 316.5h1M237 317.5h1M831 317.5h1M951 317.5h1M1199 317.5h1M236 318.5h1M832 318.5h1M950 318.5h1M1200 318.5h1M234 319.5h2M833 319.5h1M949 319.5h1M1200 319.5h1M233 320.5h1M834 320.5h1M948 320.5h1M1201 320.5h1M232 321.5h1M835 321.5h1M947 321.5h1M1201 321.5h1M231 322.5h1M835 322.5h1M946 322.5h1M1202 322.5h1M230 323.5h1M836 323.5h1M945 323.5h1M1202 323.5h1M229 324.5h1M837 324.5h1M944 324.5h1M1203 324.5h1M228 325.5h1M838 325.5h1M943 325.5h1M1203 325.5h1M227 326.5h1M839 326.5h1M941 326.5h2M1204 326.5h1M226 327.5h1M840 327.5h2M940 327.5h1M1204 327.5h1M225 328.5h1M842 328.5h2M938 328.5h2M1205 328.5h1M224 329.5h1M844 329.5h1M936 329.5h2M1205 329.5h1M223 330.5h1M845 330.5h2M935 330.5h1M1206 330.5h1M222 331.5h1M847 331.5h2M933 331.5h2M1206 331.5h1M221 332.5h1M849 332.5h2M931 332.5h2M1207 332.5h1M220 333.5h1M851 333.5h2M929 333.5h2M1208 333.5h1M219 334.5h1M853 334.5h2M927 334.5h2M1208 334.5h1M219 335.5h1M855 335.5h2M925 335.5h2M1209 335.5h1M218 336.5h1M857 336.5h2M924 336.5h1M1209 336.5h1M217 337.5h1M859 337.5h2M922 337.5h2M1210 337.5h1M216 338.5h1M861 338.5h2M920 338.5h2M1210 338.5h1M215 339.5h1M863 339.5h2M919 339.5h1M1211 339.5h1M214 340.5h1M865 340.5h3M917 340.5h2M1211 340.5h1M213 341.5h1M868 341.5h2M916 341.5h1M1212 341.5h1M212 342.5h1M870 342.5h3M914 342.5h2M1212 342.5h1M211 343.5h1M873 343.5h2M912 343.5h2M1213 343.5h1M211 344.5h1M875 344.5h2M911 344.5h1M1213 344.5h1M210 345.5h1M877 345.5h2M909 345.5h2M1214 345.5h1M209 346.5h1M879 346.5h2M907 346.5h2M1214 346.5h1M208 347.5h1M881 347.5h2M905 347.5h2M1215 347.5h1M207 348.5h1M883 348.5h2M902 348.5h3M1216 348.5h1M206 349.5h1M885 349.5h2M900 349.5h2M1216 349.5h1M205 350.5h1M887 350.5h5M897 350.5h3M1217 350.5h1M204 351.5h1M892 351.5h5M1217 351.5h1M203 352.5h1M1218 352.5h1M203 353.5h1M1218 353.5h1M202 354.5h1M1219 354.5h1M201 355.5h1M1220 355.5h1M200 356.5h1M1220 356.5h1M199 357.5h1M1221 357.5h1M198 358.5h1M1221 358.5h1M197 359.5h1M1222 359.5h1M197 360.5h1M1222 360.5h1M196 361.5h1M1223 361.5h1M195 362.5h1M1224 362.5h1M194 363.5h1M1224 363.5h1M193 364.5h1M1225 364.5h1M193 365.5h1M1225 365.5h1M192 366.5h1M1226 366.5h1M191 367.5h1M1227 367.5h1M190 368.5h1M1227 368.5h1M190 369.5h1M1228 369.5h1M189 370.5h1M1229 370.5h1M188 371.5h1M1229 371.5h1M187 372.5h1M1230 372.5h1M187 373.5h1M1230 373.5h1M186 374.5h1M1231 374.5h1M185 375.5h1M1232 375.5h1M184 376.5h1M1232 376.5h1M184 377.5h1M1233 377.5h1M183 378.5h1M1234 378.5h1M182 379.5h1M1235 379.5h1M182 380.5h1M1235 380.5h1M181 381.5h1M1236 381.5h1M181 382.5h1M1237 382.5h1M180 383.5h1M1238 383.5h1M179 384.5h1M1238 384.5h1M179 385.5h1M1239 385.5h1M178 386.5h1M1240 386.5h1M177 387.5h1M1240 387.5h1M177 388.5h1M1241 388.5h1M176 389.5h1M1242 389.5h1M176 390.5h1M1242 390.5h1M175 391.5h1M1243 391.5h1M174 392.5h1M1244 392.5h1M174 393.5h1M1244 393.5h1M173 394.5h1M1245 394.5h1M172 395.5h1M1246 395.5h1M171 396.5h1M1246 396.5h1M171 397.5h1M1247 397.5h1M170 398.5h1M1248 398.5h1M169 399.5h1M1248 399.5h1M168 400.5h1M1249 400.5h1M168 401.5h1M1250 401.5h1M167 402.5h1M1251 402.5h1M166 403.5h1M1251 403.5h1M165 404.5h1M1252 404.5h1M164 405.5h1M1253 405.5h1M163 406.5h1M1254 406.5h1M162 407.5h1M1254 407.5h1M161 408.5h1M1255 408.5h1M160 409.5h1M1256 409.5h1M159 410.5h1M1256 410.5h1M158 411.5h1M1257 411.5h1M157 412.5h1M1258 412.5h1M156 413.5h1M1259 413.5h1M155 414.5h1M1259 414.5h1M155 415.5h1M1260 415.5h1M154 416.5h1M1261 416.5h1M153 417.5h1M1262 417.5h1M152 418.5h1M1262 418.5h1M151 419.5h1M1263 419.5h1M150 420.5h1M1264 420.5h1M149 421.5h1M1264 421.5h1M148 422.5h1M1265 422.5h1M147 423.5h1M1266 423.5h1M147 424.5h1M1266 424.5h1M146 425.5h1M1267 425.5h1M145 426.5h1M1268 426.5h1M144 427.5h1M1268 427.5h1M143 428.5h1M1269 428.5h1M142 429.5h1M1270 429.5h1M141 430.5h1M1270 430.5h1M140 431.5h1M1271 431.5h1M139 432.5h1M1272 432.5h1M138 433.5h1M1272 433.5h1M137 434.5h1M1273 434.5h1M136 435.5h1M1274 435.5h1M135 436.5h1M1275 436.5h1M134 437.5h1M1275 437.5h1M133 438.5h1M1276 438.5h1M132 439.5h1M1277 439.5h1M130 440.5h2M1278 440.5h1M129 441.5h1M1278 441.5h1M128 442.5h1M1279 442.5h1M127 443.5h1M1280 443.5h1M126 444.5h1M1280 444.5h1M124 445.5h2M1281 445.5h1M123 446.5h1M1282 446.5h1M-1 447.5h2M122 447.5h1M1283 447.5h1M1 448.5h2M120 448.5h2M1283 448.5h1M3 449.5h2M119 449.5h1M1284 449.5h1M5 450.5h2M118 450.5h1M1285 450.5h1M7 451.5h1M116 451.5h2M1286 451.5h1M8 452.5h1M115 452.5h1M1286 452.5h1M9 453.5h1M114 453.5h1M1287 453.5h1M10 454.5h2M112 454.5h2M1288 454.5h1M12 455.5h1M111 455.5h1M1288 455.5h1M1375 455.5h1M13 456.5h1M110 456.5h1M1289 456.5h1M1374 456.5h1M14 457.5h1M108 457.5h2M1290 457.5h1M1373 457.5h1M15 458.5h1M107 458.5h1M1291 458.5h1M1372 458.5h1M16 459.5h1M106 459.5h1M1291 459.5h1M1370 459.5h2M17 460.5h1M104 460.5h2M1292 460.5h1M1369 460.5h1M18 461.5h1M102 461.5h2M1293 461.5h1M1368 461.5h1M19 462.5h1M100 462.5h2M1294 462.5h1M1367 462.5h1M20 463.5h1M97 463.5h3M1294 463.5h1M1366 463.5h1M21 464.5h1M95 464.5h2M1295 464.5h1M1364 464.5h2M22 465.5h1M93 465.5h2M1296 465.5h1M1363 465.5h1M23 466.5h1M91 466.5h2M1297 466.5h1M1362 466.5h1M24 467.5h1M89 467.5h2M1298 467.5h2M1360 467.5h2M25 468.5h1M84 468.5h5M1300 468.5h1M1359 468.5h1M26 469.5h2M76 469.5h8M1301 469.5h1M1357 469.5h2M28 470.5h1M71 470.5h5M1302 470.5h1M1356 470.5h1M29 471.5h1M69 471.5h2M1303 471.5h1M1354 471.5h2M30 472.5h1M67 472.5h2M1304 472.5h2M1352 472.5h2M31 473.5h2M65 473.5h2M1306 473.5h1M1351 473.5h1M33 474.5h2M62 474.5h3M1307 474.5h1M1349 474.5h2M35 475.5h2M60 475.5h2M1308 475.5h2M1347 475.5h2M37 476.5h2M57 476.5h3M1310 476.5h1M1345 476.5h2M39 477.5h5M52 477.5h5M1311 477.5h2M1343 477.5h2M44 478.5h8M1313 478.5h3M1341 478.5h2M1316 479.5h2M1339 479.5h2M1318 480.5h4M1337 480.5h2M1322 481.5h4M1332 481.5h5M1326 482.5h6"/>
<path d="M655 143.5h1M653 144.5h2M656 144.5h1M651 145.5h2M656 145.5h1M649 146.5h2M657 146.5h1M647 147.5h2M657 147.5h1M646 148.5h1M658 148.5h1M646 149.5h1M658 149.5h1M645 150.5h1M659 150.5h1M645 151.5h1M659 151.5h1M644 152.5h1M660 152.5h1M644 153.5h1M660 153.5h1M643 154.5h1M661 154.5h1M642 155.5h1M661 155.5h1M642 156.5h1M662 156.5h1M641 157.5h1M662 157.5h1M641 158.5h1M663 158.5h1M640 159.5h1M664 159.5h1M640 160.5h1M664 160.5h1M639 161.5h1M665 161.5h1M638 162.5h1M665 162.5h1M638 163.5h1M666 163.5h1M637 164.5h1M667 164.5h1M637 165.5h1M667 165.5h1M636 166.5h1M668 166.5h1M636 167.5h1M669 167.5h1M635 168.5h1M669 168.5h1M635 169.5h1M670 169.5h1M634 170.5h1M670 170.5h1M634 171.5h1M671 171.5h1M633 172.5h1M672 172.5h1M633 173.5h1M672 173.5h1M632 174.5h1M673 174.5h1M632 175.5h1M673 175.5h1M631 176.5h1M674 176.5h1M631 177.5h1M674 177.5h1M631 178.5h1M675 178.5h1M630 179.5h1M676 179.5h1M630 180.5h1M676 180.5h1M629 181.5h1M677 181.5h1M629 182.5h1M677 182.5h1M628 183.5h1M678 183.5h1M628 184.5h1M678 184.5h1M627 185.5h1M679 185.5h1M627 186.5h1M679 186.5h1M626 187.5h1M680 187.5h1M626 188.5h1M680 188.5h1M625 189.5h1M680 189.5h1M625 190.5h1M680 190.5h1M624 191.5h1M681 191.5h1M624 192.5h1M681 192.5h1M623 193.5h1M681 193.5h1M623 194.5h1M681 194.5h1M622 195.5h1M682 195.5h1M622 196.5h1M682 196.5h1M621 197.5h1M682 197.5h1M621 198.5h1M683 198.5h1M620 199.5h1M683 199.5h1M620 200.5h1M683 200.5h1M619 201.5h1M683 201.5h1M619 202.5h1M684 202.5h1M618 203.5h1M684 203.5h1M618 204.5h1M684 204.5h1M617 205.5h1M685 205.5h1M617 206.5h1M685 206.5h1M616 207.5h1M685 207.5h1M616 208.5h1M685 208.5h1M615 209.5h1M686 209.5h1M615 210.5h1M686 210.5h1M614 211.5h1M686 211.5h1M614 212.5h1M686 212.5h1M613 213.5h1M687 213.5h1M612 214.5h1M687 214.5h1M612 215.5h1M687 215.5h1M611 216.5h1M688 216.5h1M610 217.5h1M688 217.5h1M610 218.5h1M688 218.5h1M609 219.5h1M689 219.5h1M608 220.5h1M689 220.5h1M608 221.5h1M689 221.5h1M607 222.5h1M689 222.5h1M606 223.5h1M690 223.5h1M605 224.5h1M690 224.5h1M604 225.5h1M690 225.5h1M602 226.5h2M691 226.5h1M601 227.5h1M691 227.5h1M600 228.5h1M691 228.5h1M599 229.5h1M692 229.5h1M597 230.5h2M692 230.5h1M595 231.5h2M692 231.5h1M593 232.5h2M693 232.5h1M590 233.5h3M693 233.5h1M588 234.5h2M693 234.5h1M585 235.5h3M693 235.5h1M567 236.5h18M694 236.5h1M565 237.5h2M694 237.5h1M563 238.5h2M694 238.5h1M561 239.5h2M695 239.5h1M559 240.5h2M695 240.5h1M557 241.5h2M695 241.5h1M556 242.5h1M696 242.5h1M436 243.5h14M554 243.5h2M696 243.5h1M430 244.5h6M450 244.5h4M552 244.5h2M696 244.5h1M428 245.5h2M454 245.5h3M550 245.5h2M697 245.5h1M425 246.5h3M457 246.5h3M484 246.5h5M548 246.5h2M697 246.5h1M423 247.5h2M460 247.5h2M476 247.5h8M489 247.5h3M545 247.5h3M697 247.5h1M421 248.5h2M462 248.5h14M492 248.5h2M542 248.5h3M698 248.5h1M419 249.5h2M494 249.5h2M538 249.5h4M698 249.5h1M417 250.5h2M496 250.5h2M535 250.5h3M698 250.5h1M412 251.5h5M498 251.5h2M533 251.5h2M699 251.5h1M407 252.5h5M500 252.5h1M532 252.5h1M699 252.5h1M406 253.5h1M501 253.5h2M530 253.5h2M700 253.5h1M406 254.5h1M503 254.5h1M528 254.5h2M700 254.5h1M405 255.5h1M504 255.5h2M527 255.5h1M700 255.5h1M405 256.5h1M506 256.5h2M526 256.5h1M701 256.5h1M404 257.5h1M508 257.5h1M524 257.5h2M701 257.5h1M404 258.5h1M509 258.5h2M523 258.5h1M701 258.5h1M403 259.5h1M511 259.5h3M522 259.5h1M702 259.5h1M402 260.5h1M514 260.5h4M520 260.5h2M702 260.5h1M402 261.5h1M518 261.5h2M702 261.5h1M1103 261.5h5M401 262.5h1M703 262.5h1M1101 262.5h2M1108 262.5h4M401 263.5h1M703 263.5h1M1099 263.5h2M1112 263.5h2M400 264.5h1M704 264.5h1M1097 264.5h2M1114 264.5h2M400 265.5h1M704 265.5h1M1095 265.5h2M1116 265.5h1M398 266.5h2M705 266.5h1M1093 266.5h2M1117 266.5h2M396 267.5h2M705 267.5h1M1092 267.5h1M1119 267.5h1M393 268.5h3M706 268.5h1M1090 268.5h2M1120 268.5h2M390 269.5h3M706 269.5h1M1088 269.5h2M1122 269.5h1M388 270.5h2M707 270.5h1M1063 270.5h25M1123 270.5h1M385 271.5h3M708 271.5h1M1061 271.5h2M1124 271.5h2M382 272.5h3M708 272.5h1M1059 272.5h2M1126 272.5h1M380 273.5h2M709 273.5h1M1057 273.5h2M1127 273.5h1M377 274.5h3M709 274.5h1M1055 274.5h2M1128 274.5h1M375 275.5h2M710 275.5h1M1055 275.5h1M1129 275.5h1M373 276.5h2M710 276.5h1M1054 276.5h1M1130 276.5h1M372 277.5h1M711 277.5h1M1054 277.5h1M1131 277.5h1M370 278.5h2M711 278.5h1M1054 278.5h1M1131 278.5h1M368 279.5h2M712 279.5h1M1053 279.5h1M1132 279.5h1M367 280.5h1M712 280.5h1M1053 280.5h1M1133 280.5h1M366 281.5h1M713 281.5h1M1053 281.5h1M1134 281.5h1M364 282.5h2M713 282.5h1M1052 282.5h1M1135 282.5h1M363 283.5h1M714 283.5h1M1052 283.5h1M1135 283.5h1M362 284.5h1M714 284.5h1M1052 284.5h1M1136 284.5h1M360 285.5h2M714 285.5h1M1051 285.5h1M1136 285.5h1M359 286.5h1M715 286.5h1M1051 286.5h1M1137 286.5h1M358 287.5h1M715 287.5h1M1050 287.5h1M1137 287.5h1M356 288.5h2M716 288.5h1M1050 288.5h1M1138 288.5h1M355 289.5h1M716 289.5h1M1050 289.5h1M1138 289.5h1M354 290.5h1M716 290.5h1M1049 290.5h1M1139 290.5h1M352 291.5h2M717 291.5h1M1049 291.5h1M1139 291.5h1M351 292.5h1M717 292.5h1M1049 292.5h1M1140 292.5h1M350 293.5h1M718 293.5h1M1048 293.5h1M1140 293.5h1M348 294.5h2M718 294.5h1M1048 294.5h1M1141 294.5h1M347 295.5h1M719 295.5h1M1048 295.5h1M1141 295.5h1M346 296.5h1M719 296.5h1M1047 296.5h1M1142 296.5h1M344 297.5h2M719 297.5h1M1047 297.5h1M1142 297.5h1M343 298.5h1M720 298.5h1M1047 298.5h1M1143 298.5h1M341 299.5h2M720 299.5h1M1046 299.5h1M1143 299.5h1M340 300.5h1M721 300.5h1M1046 300.5h1M1143 300.5h1M338 301.5h2M721 301.5h1M1046 301.5h1M1143 301.5h1M336 302.5h2M721 302.5h1M1045 302.5h1M1144 302.5h1M335 303.5h1M722 303.5h1M1045 303.5h1M1144 303.5h1M334 304.5h1M722 304.5h1M1045 304.5h1M1144 304.5h1M333 305.5h1M722 305.5h1M1044 305.5h1M1144 305.5h1M332 306.5h1M723 306.5h1M1044 306.5h1M1145 306.5h1M331 307.5h1M723 307.5h1M1044 307.5h1M1145 307.5h1M331 308.5h1M724 308.5h1M1043 308.5h1M1145 308.5h1M330 309.5h1M724 309.5h1M1043 309.5h1M1145 309.5h1M329 310.5h1M724 310.5h1M1042 310.5h1M1146 310.5h1M328 311.5h1M725 311.5h1M1042 311.5h1M1146 311.5h1M327 312.5h1M725 312.5h1M1042 312.5h1M1146 312.5h1M326 313.5h1M725 313.5h1M1041 313.5h1M1146 313.5h1M325 314.5h1M726 314.5h1M1041 314.5h1M1147 314.5h1M324 315.5h1M726 315.5h1M1041 315.5h1M1147 315.5h1M323 316.5h1M727 316.5h1M1040 316.5h1M1147 316.5h1M322 317.5h1M727 317.5h1M1040 317.5h1M1147 317.5h1M321 318.5h1M727 318.5h1M1040 318.5h1M1148 318.5h1M320 319.5h1M728 319.5h1M1039 319.5h1M1148 319.5h1M319 320.5h1M728 320.5h1M1039 320.5h1M1148 320.5h1M318 321.5h1M729 321.5h1M1039 321.5h1M1148 321.5h1M317 322.5h1M729 322.5h1M1038 322.5h1M1149 322.5h1M316 323.5h1M730 323.5h1M1038 323.5h1M1149 323.5h1M314 324.5h2M730 324.5h1M1038 324.5h1M1149 324.5h1M313 325.5h1M731 325.5h1M1037 325.5h1M1149 325.5h1M312 326.5h1M731 326.5h1M1037 326.5h1M1150 326.5h1M311 327.5h1M732 327.5h1M1036 327.5h1M1150 327.5h1M310 328.5h1M732 328.5h1M1036 328.5h1M1150 328.5h1M309 329.5h1M733 329.5h1M1036 329.5h1M1150 329.5h1M308 330.5h1M733 330.5h1M1035 330.5h1M1151 330.5h1M306 331.5h2M734 331.5h1M1035 331.5h1M1151 331.5h1M305 332.5h1M734 332.5h1M1035 332.5h1M1151 332.5h1M304 333.5h1M735 333.5h1M1034 333.5h1M1151 333.5h1M303 334.5h1M735 334.5h1M1034 334.5h1M1152 334.5h1M302 335.5h1M736 335.5h1M1034 335.5h1M1152 335.5h1M302 336.5h1M736 336.5h1M1033 336.5h1M1152 336.5h1M301 337.5h1M737 337.5h1M1033 337.5h1M1152 337.5h1M301 338.5h1M737 338.5h1M1032 338.5h1M1152 338.5h1M300 339.5h1M738 339.5h1M1032 339.5h1M1152 339.5h1M300 340.5h1M738 340.5h1M1032 340.5h1M1153 340.5h1M299 341.5h1M739 341.5h1M1031 341.5h1M1153 341.5h1M299 342.5h1M740 342.5h1M1031 342.5h1M1153 342.5h1M298 343.5h1M740 343.5h1M1030 343.5h1M1153 343.5h1M298 344.5h1M741 344.5h1M1030 344.5h1M1153 344.5h1M297 345.5h1M741 345.5h1M1029 345.5h1M1154 345.5h1M297 346.5h1M742 346.5h1M1029 346.5h1M1154 346.5h1M296 347.5h1M742 347.5h1M1028 347.5h1M1154 347.5h1M296 348.5h1M743 348.5h1M1028 348.5h1M1154 348.5h1M295 349.5h1M744 349.5h1M1027 349.5h1M1154 349.5h1M295 350.5h1M744 350.5h1M1027 350.5h1M1154 350.5h1M294 351.5h1M745 351.5h1M1026 351.5h1M1155 351.5h1M293 352.5h1M746 352.5h1M1026 352.5h1M1155 352.5h1M293 353.5h1M746 353.5h1M1025 353.5h1M1155 353.5h1M292 354.5h1M747 354.5h1M1025 354.5h1M1155 354.5h1M291 355.5h1M748 355.5h1M1024 355.5h1M1155 355.5h1M290 356.5h1M748 356.5h1M1024 356.5h1M1156 356.5h1M289 357.5h1M749 357.5h1M1023 357.5h1M1156 357.5h1M289 358.5h1M750 358.5h1M1022 358.5h1M1156 358.5h1M288 359.5h1M750 359.5h1M1022 359.5h1M1156 359.5h1M287 360.5h1M751 360.5h1M1021 360.5h1M1156 360.5h1M286 361.5h1M751 361.5h1M1021 361.5h1M1156 361.5h1M285 362.5h1M752 362.5h1M1020 362.5h1M1157 362.5h1M285 363.5h1M752 363.5h1M1020 363.5h1M1157 363.5h1M284 364.5h1M753 364.5h1M1019 364.5h1M1157 364.5h1M283 365.5h1M753 365.5h1M1019 365.5h1M1157 365.5h1M282 366.5h1M754 366.5h1M1018 366.5h1M1157 366.5h1M281 367.5h1M754 367.5h1M1018 367.5h1M1158 367.5h1M281 368.5h1M755 368.5h1M1017 368.5h1M1158 368.5h1M280 369.5h1M755 369.5h1M1017 369.5h1M1158 369.5h1M279 370.5h1M756 370.5h1M1016 370.5h1M1158 370.5h1M277 371.5h2M756 371.5h1M1016 371.5h1M1158 371.5h1M276 372.5h1M757 372.5h1M1015 372.5h1M1158 372.5h1M274 373.5h2M757 373.5h1M1013 373.5h2M1159 373.5h1M272 374.5h2M758 374.5h1M1012 374.5h1M1159 374.5h1M271 375.5h1M758 375.5h1M1010 375.5h2M1159 375.5h1M270 376.5h1M759 376.5h1M1008 376.5h2M1159 376.5h1M269 377.5h1M760 377.5h1M1007 377.5h1M1159 377.5h1M268 378.5h1M760 378.5h1M1006 378.5h1M1160 378.5h1M266 379.5h2M761 379.5h1M1004 379.5h2M1160 379.5h1M265 380.5h1M762 380.5h1M1003 380.5h1M1160 380.5h1M264 381.5h1M762 381.5h1M1002 381.5h1M1160 381.5h1M263 382.5h1M763 382.5h1M1000 382.5h2M1161 382.5h1M262 383.5h1M764 383.5h1M999 383.5h1M1161 383.5h1M261 384.5h1M764 384.5h1M998 384.5h1M1161 384.5h1M260 385.5h1M765 385.5h1M998 385.5h1M1161 385.5h1M259 386.5h1M766 386.5h1M997 386.5h1M1161 386.5h1M259 387.5h1M766 387.5h1M997 387.5h1M1162 387.5h1M258 388.5h1M767 388.5h1M996 388.5h1M1162 388.5h1M257 389.5h1M768 389.5h1M996 389.5h1M1162 389.5h1M256 390.5h1M768 390.5h1M995 390.5h1M1162 390.5h1M255 391.5h1M769 391.5h1M995 391.5h1M1163 391.5h1M254 392.5h1M770 392.5h1M994 392.5h1M1163 392.5h1M253 393.5h1M771 393.5h1M994 393.5h1M1163 393.5h1M253 394.5h1M771 394.5h1M993 394.5h1M1163 394.5h1M252 395.5h1M772 395.5h1M993 395.5h1M1163 395.5h1M251 396.5h1M773 396.5h1M992 396.5h1M1164 396.5h1M250 397.5h1M774 397.5h1M992 397.5h1M1164 397.5h1M249 398.5h1M774 398.5h1M991 398.5h1M1164 398.5h1M249 399.5h1M775 399.5h1M991 399.5h1M1164 399.5h1M248 400.5h1M776 400.5h1M990 400.5h1M1165 400.5h1M247 401.5h1M777 401.5h1M990 401.5h1M1165 401.5h1M246 402.5h1M778 402.5h1M989 402.5h1M1165 402.5h1M246 403.5h1M779 403.5h1M989 403.5h1M1165 403.5h1M245 404.5h1M779 404.5h1M988 404.5h1M1165 404.5h1M244 405.5h1M780 405.5h1M988 405.5h1M1166 405.5h1M244 406.5h1M781 406.5h1M987 406.5h1M1166 406.5h1M243 407.5h1M782 407.5h1M894 407.5h2M987 407.5h1M1166 407.5h1M242 408.5h1M783 408.5h1M890 408.5h4M896 408.5h1M986 408.5h1M1166 408.5h1M242 409.5h1M784 409.5h1M886 409.5h4M897 409.5h1M986 409.5h1M1167 409.5h1M241 410.5h1M785 410.5h1M884 410.5h2M898 410.5h1M985 410.5h1M1167 410.5h1M240 411.5h1M786 411.5h1M881 411.5h3M899 411.5h1M985 411.5h1M1167 411.5h1M240 412.5h1M787 412.5h1M878 412.5h3M900 412.5h1M984 412.5h1M1167 412.5h1M239 413.5h1M787 413.5h1M876 413.5h2M901 413.5h1M984 413.5h1M1167 413.5h1M238 414.5h1M788 414.5h1M873 414.5h3M902 414.5h1M983 414.5h1M1168 414.5h1M238 415.5h1M789 415.5h1M870 415.5h3M903 415.5h1M982 415.5h1M1168 415.5h1M237 416.5h1M790 416.5h1M868 416.5h2M904 416.5h1M982 416.5h1M1168 416.5h1M237 417.5h1M791 417.5h1M865 417.5h3M904 417.5h1M981 417.5h1M1168 417.5h1M236 418.5h1M792 418.5h1M855 418.5h10M905 418.5h1M981 418.5h1M1169 418.5h1M235 419.5h1M793 419.5h1M853 419.5h2M905 419.5h1M980 419.5h1M1169 419.5h1M235 420.5h1M794 420.5h1M852 420.5h1M906 420.5h1M979 420.5h1M1169 420.5h1M234 421.5h1M795 421.5h1M850 421.5h2M906 421.5h1M979 421.5h1M1169 421.5h1M233 422.5h1M796 422.5h1M848 422.5h2M907 422.5h1M978 422.5h1M1170 422.5h1M233 423.5h1M797 423.5h1M846 423.5h2M908 423.5h1M977 423.5h1M1170 423.5h1M232 424.5h1M798 424.5h1M842 424.5h4M908 424.5h1M977 424.5h1M1170 424.5h1M232 425.5h1M799 425.5h1M815 425.5h1M839 425.5h3M909 425.5h1M976 425.5h1M1170 425.5h1M231 426.5h1M800 426.5h2M813 426.5h2M816 426.5h1M837 426.5h2M909 426.5h1M976 426.5h1M1171 426.5h1M229 427.5h2M802 427.5h2M812 427.5h1M817 427.5h1M835 427.5h2M910 427.5h1M975 427.5h1M1171 427.5h1M227 428.5h2M804 428.5h1M810 428.5h2M818 428.5h2M833 428.5h2M910 428.5h1M974 428.5h1M1171 428.5h1M225 429.5h2M805 429.5h2M808 429.5h2M820 429.5h1M830 429.5h3M911 429.5h1M973 429.5h1M1171 429.5h1M223 430.5h2M807 430.5h1M821 430.5h1M828 430.5h2M912 430.5h1M972 430.5h1M1172 430.5h1M222 431.5h1M822 431.5h1M825 431.5h3M913 431.5h1M971 431.5h1M1172 431.5h1M221 432.5h1M823 432.5h2M914 432.5h2M970 432.5h1M1172 432.5h1M220 433.5h1M916 433.5h1M969 433.5h1M1172 433.5h1M218 434.5h2M917 434.5h1M968 434.5h1M1173 434.5h1M217 435.5h1M918 435.5h1M967 435.5h1M1173 435.5h1M216 436.5h1M919 436.5h1M965 436.5h2M1173 436.5h1M215 437.5h1M920 437.5h2M963 437.5h2M1173 437.5h1M214 438.5h1M922 438.5h2M961 438.5h2M1174 438.5h1M213 439.5h1M924 439.5h1M959 439.5h2M1174 439.5h1M212 440.5h1M925 440.5h2M957 440.5h2M1174 440.5h1M211 441.5h1M927 441.5h3M955 441.5h2M1174 441.5h1M210 442.5h1M930 442.5h4M953 442.5h2M1175 442.5h1M209 443.5h1M934 443.5h19M1175 443.5h1M208 444.5h1M1175 444.5h1M207 445.5h1M1175 445.5h1M207 446.5h1M1175 446.5h1M206 447.5h1M1176 447.5h1M206 448.5h1M1176 448.5h1M205 449.5h1M1176 449.5h1M205 450.5h1M1176 450.5h1M204 451.5h1M1177 451.5h1M204 452.5h1M1177 452.5h1M203 453.5h1M1177 453.5h1M203 454.5h1M1177 454.5h1M202 455.5h1M1178 455.5h1M202 456.5h1M1178 456.5h1M201 457.5h1M1178 457.5h1M201 458.5h1M1178 458.5h1M200 459.5h1M1179 459.5h1M200 460.5h1M1179 460.5h1M199 461.5h1M1179 461.5h1M199 462.5h1M1179 462.5h1M199 463.5h1M1180 463.5h1M198 464.5h1M1180 464.5h1M198 465.5h1M1180 465.5h1M197 466.5h1M1180 466.5h1M197 467.5h1M1181 467.5h1M196 468.5h1M1181 468.5h1M196 469.5h1M1181 469.5h1M195 470.5h1M1181 470.5h1M195 471.5h1M1182 471.5h1M194 472.5h1M1182 472.5h1M194 473.5h1M1182 473.5h1M193 474.5h1M1182 474.5h1M193 475.5h1M1183 475.5h1M192 476.5h1M1183 476.5h1M192 477.5h1M1183 477.5h1M191 478.5h1M1184 478.5h1M191 479.5h1M1184 479.5h1M191 480.5h1M1184 480.5h1M190 481.5h1M1184 481.5h1M190 482.5h1M1185 482.5h1M189 483.5h1M1185 483.5h1M189 484.5h1M1185 484.5h1M188 485.5h1M1185 485.5h1M188 486.5h1M1186 486.5h1M187 487.5h1M1186 487.5h1M187 488.5h1M1186 488.5h1M186 489.5h1M1187 489.5h1M186 490.5h1M1187 490.5h1M185 491.5h1M1187 491.5h1M185 492.5h1M1187 492.5h1M184 493.5h1M1188 493.5h1M184 494.5h1M1188 494.5h1M183 495.5h1M1188 495.5h1M183 496.5h1M1189 496.5h1M183 497.5h1M1189 497.5h1M182 498.5h1M1189 498.5h1M182 499.5h1M1189 499.5h1M182 500.5h1M1190 500.5h1M181 501.5h1M1190 501.5h1M181 502.5h1M1190 502.5h1M181 503.5h1M1190 503.5h1M180 504.5h1M1191 504.5h1M180 505.5h1M1191 505.5h1M180 506.5h1M1191 506.5h1M179 507.5h1M1192 507.5h1M179 508.5h1M1192 508.5h1M179 509.5h1M1192 509.5h1M178 510.5h1M1192 510.5h1M178 511.5h1M1193 511.5h1M178 512.5h1M1193 512.5h1M177 513.5h1M1193 513.5h1M177 514.5h1M1194 514.5h1M177 515.5h1M1194 515.5h1M176 516.5h1M1194 516.5h1M176 517.5h1M1195 517.5h1M176 518.5h1M1195 518.5h1M175 519.5h1M1195 519.5h1M175 520.5h1M1195 520.5h1M175 521.5h1M1196 521.5h1M174 522.5h1M1196 522.5h1M174 523.5h1M1196 523.5h1M174 524.5h1M1197 524.5h1M173 525.5h1M1197 525.5h1M173 526.5h1M1197 526.5h1M172 527.5h1M1198 527.5h1M172 528.5h1M1198 528.5h1M172 529.5h1M1198 529.5h1M171 530.5h1M1198 530.5h1M171 531.5h1M1199 531.5h1M171 532.5h1M1199 532.5h1M170 533.5h1M1199 533.5h1M170 534.5h1M1200 534.5h1M170 535.5h1M1200 535.5h1M1311 535.5h3M169 536.5h1M1200 536.5h1M1310 536.5h1M1314 536.5h4M169 537.5h1M1201 537.5h1M1308 537.5h2M1318 537.5h3M168 538.5h1M1201 538.5h1M1307 538.5h1M1321 538.5h3M168 539.5h1M1201 539.5h1M1306 539.5h1M1324 539.5h2M168 540.5h1M1201 540.5h1M1304 540.5h2M1326 540.5h3M167 541.5h1M1202 541.5h1M1303 541.5h1M1329 541.5h2M167 542.5h1M1202 542.5h1M1302 542.5h1M1331 542.5h2M166 543.5h1M1202 543.5h1M1302 543.5h1M1333 543.5h2M1374 543.5h2M164 544.5h2M1203 544.5h1M1301 544.5h1M1335 544.5h2M1372 544.5h2M163 545.5h1M1203 545.5h1M1301 545.5h1M1337 545.5h2M1369 545.5h3M-1 546.5h5M39 546.5h10M162 546.5h1M1203 546.5h1M1300 546.5h1M1339 546.5h2M1367 546.5h2M4 547.5h4M38 547.5h1M49 547.5h2M160 547.5h2M1204 547.5h1M1299 547.5h1M1341 547.5h2M1366 547.5h1M8 548.5h1M37 548.5h1M51 548.5h2M159 548.5h1M1204 548.5h1M1299 548.5h1M1343 548.5h2M1364 548.5h2M8 549.5h1M36 549.5h1M53 549.5h2M157 549.5h2M1204 549.5h1M1298 549.5h1M1345 549.5h3M1363 549.5h1M9 550.5h1M34 550.5h2M55 550.5h3M156 550.5h1M1205 550.5h1M1297 550.5h1M1348 550.5h2M1362 550.5h1M9 551.5h1M33 551.5h1M58 551.5h4M154 551.5h2M1205 551.5h1M1297 551.5h1M1350 551.5h6M1360 551.5h2M10 552.5h1M32 552.5h1M62 552.5h4M152 552.5h2M1205 552.5h1M1296 552.5h1M1356 552.5h4M10 553.5h1M31 553.5h1M66 553.5h4M151 553.5h1M1205 553.5h1M1296 553.5h1M11 554.5h1M30 554.5h1M70 554.5h6M149 554.5h2M1206 554.5h1M1295 554.5h1M11 555.5h1M30 555.5h1M76 555.5h6M148 555.5h1M1206 555.5h1M1294 555.5h1M12 556.5h1M29 556.5h1M82 556.5h4M146 556.5h2M1206 556.5h1M1294 556.5h1M12 557.5h1M28 557.5h1M86 557.5h3M144 557.5h2M1207 557.5h1M1293 557.5h1M13 558.5h1M27 558.5h1M89 558.5h2M143 558.5h1M1207 558.5h1M1293 558.5h1M13 559.5h1M27 559.5h1M91 559.5h2M141 559.5h2M1207 559.5h1M1292 559.5h1M14 560.5h1M26 560.5h1M93 560.5h2M140 560.5h1M1208 560.5h1M1292 560.5h1M14 561.5h1M25 561.5h1M95 561.5h2M138 561.5h2M1208 561.5h1M1291 561.5h1M15 562.5h3M24 562.5h1M97 562.5h2M136 562.5h2M1208 562.5h1M1291 562.5h1M18 563.5h4M24 563.5h1M99 563.5h2M135 563.5h1M1209 563.5h1M1290 563.5h1M22 564.5h2M101 564.5h2M133 564.5h2M1209 564.5h1M1290 564.5h1M103 565.5h2M131 565.5h2M1209 565.5h1M1289 565.5h1M105 566.5h3M129 566.5h2M1210 566.5h1M1289 566.5h1M108 567.5h2M127 567.5h2M1210 567.5h1M1288 567.5h1M110 568.5h3M125 568.5h2M1210 568.5h1M1288 568.5h1M113 569.5h3M123 569.5h2M1211 569.5h1M1287 569.5h1M116 570.5h2M121 570.5h2M1211 570.5h1M1286 570.5h1M118 571.5h3M1211 571.5h1M1286 571.5h1M1212 572.5h1M1285 572.5h1M1212 573.5h1M1285 573.5h1M1212 574.5h1M1284 574.5h1M1213 575.5h1M1284 575.5h1M1213 576.5h1M1283 576.5h1M1213 577.5h1M1283 577.5h1M1214 578.5h1M1282 578.5h1M1214 579.5h1M1282 579.5h1M1214 580.5h1M1281 580.5h1M1215 581.5h1M1281 581.5h1M1215 582.5h1M1280 582.5h1M1216 583.5h1M1280 583.5h1M1216 584.5h1M1279 584.5h1M1217 585.5h1M1278 585.5h1M1217 586.5h1M1278 586.5h1M1218 587.5h1M1277 587.5h1M1218 588.5h1M1277 588.5h1M1219 589.5h1M1276 589.5h1M1220 590.5h1M1276 590.5h1M1220 591.5h1M1275 591.5h1M1221 592.5h1M1274 592.5h1M1221 593.5h1M1274 593.5h1M1222 594.5h1M1273 594.5h1M1222 595.5h1M1273 595.5h1M1223 596.5h2M1272 596.5h1M1225 597.5h2M1272 597.5h1M1227 598.5h2M1270 598.5h2M1229 599.5h2M1266 599.5h4M1231 600.5h35"/>
</g>
<rect x="0" y="355" width="1627" height="1" fill="#c0c0c0"/>
<rect x="0" y="316" width="1627" height="2" fill="#ff0000"/>
<rect x="0" y="335" width="1627" height="2" fill="#ff0000"/>
<rect x="0" y="370" width="1480" height="2" fill="#32cd32"/>
<rect x="1590" y="370" width="37" height="2" fill="#32cd32"/>
<rect x="0" y="397" width="1627" height="2" fill="#0000ff"/>
<rect x="0" y="412" width="1627" height="2" fill="#0000ff"/>
<g shape-rendering="crispEdges" clip-path="url(#cpMain)">
<rect x="7" y="461" width="1" height="24" fill="#000"/>
<rect x="5" y="469" width="5" height="3" fill="#000"/>
<rect x="6" y="470" width="3" height="1" fill="#fff"/>
<rect x="15" y="471" width="1" height="82" fill="#000"/>
<rect x="13" y="471" width="5" height="82" fill="#000"/>
<rect x="23" y="528" width="1" height="34" fill="#000"/>
<rect x="21" y="545" width="5" height="1" fill="#000"/>
<rect x="31" y="489" width="1" height="72" fill="#000"/>
<rect x="29" y="494" width="5" height="65" fill="#000"/>
<rect x="30" y="495" width="3" height="63" fill="#fff"/>
<rect x="39" y="448" width="1" height="33" fill="#000"/>
<rect x="37" y="455" width="5" height="16" fill="#000"/>
<rect x="47" y="457" width="1" height="28" fill="#000"/>
<rect x="45" y="464" width="5" height="3" fill="#000"/>
<rect x="55" y="398" width="1" height="45" fill="#000"/>
<rect x="53" y="409" width="5" height="34" fill="#000"/>
<rect x="54" y="410" width="3" height="32" fill="#fff"/>
<rect x="63" y="399" width="1" height="37" fill="#000"/>
<rect x="61" y="414" width="5" height="8" fill="#000"/>
<rect x="62" y="415" width="3" height="6" fill="#fff"/>
<rect x="71" y="390" width="1" height="21" fill="#000"/>
<rect x="69" y="390" width="5" height="4" fill="#000"/>
<rect x="79" y="400" width="1" height="43" fill="#000"/>
<rect x="77" y="403" width="5" height="27" fill="#000"/>
<rect x="87" y="378" width="1" height="40" fill="#000"/>
<rect x="85" y="388" width="5" height="24" fill="#000"/>
<rect x="86" y="389" width="3" height="22" fill="#fff"/>
<rect x="95" y="371" width="1" height="35" fill="#000"/>
<rect x="93" y="373" width="5" height="20" fill="#000"/>
<rect x="94" y="374" width="3" height="18" fill="#fff"/>
<rect x="103" y="362" width="1" height="34" fill="#000"/>
<rect x="101" y="371" width="5" height="16" fill="#000"/>
<rect x="111" y="351" width="1" height="21" fill="#000"/>
<rect x="109" y="355" width="5" height="14" fill="#000"/>
<rect x="110" y="356" width="3" height="12" fill="#fff"/>
<rect x="119" y="332" width="1" height="32" fill="#000"/>
<rect x="117" y="342" width="5" height="2" fill="#000"/>
<rect x="127" y="340" width="1" height="41" fill="#000"/>
<rect x="125" y="351" width="5" height="14" fill="#000"/>
<rect x="135" y="350" width="1" height="27" fill="#000"/>
<rect x="133" y="366" width="5" height="10" fill="#000"/>
<rect x="134" y="367" width="3" height="8" fill="#fff"/>
<rect x="143" y="352" width="1" height="25" fill="#000"/>
<rect x="141" y="356" width="5" height="4" fill="#000"/>
<rect x="142" y="357" width="3" height="2" fill="#fff"/>
<rect x="151" y="308" width="1" height="38" fill="#000"/>
<rect x="149" y="308" width="5" height="31" fill="#000"/>
<rect x="150" y="309" width="3" height="29" fill="#fff"/>
<rect x="159" y="289" width="1" height="34" fill="#000"/>
<rect x="157" y="301" width="5" height="13" fill="#000"/>
<rect x="167" y="314" width="1" height="26" fill="#000"/>
<rect x="165" y="315" width="5" height="25" fill="#000"/>
<rect x="166" y="316" width="3" height="23" fill="#fff"/>
<rect x="175" y="302" width="1" height="32" fill="#000"/>
<rect x="173" y="305" width="5" height="14" fill="#000"/>
<rect x="174" y="306" width="3" height="12" fill="#fff"/>
<rect x="183" y="265" width="1" height="34" fill="#000"/>
<rect x="181" y="266" width="5" height="20" fill="#000"/>
<rect x="182" y="267" width="3" height="18" fill="#fff"/>
<rect x="191" y="253" width="1" height="44" fill="#000"/>
<rect x="189" y="258" width="5" height="27" fill="#000"/>
<rect x="199" y="277" width="1" height="16" fill="#000"/>
<rect x="197" y="281" width="5" height="3" fill="#000"/>
<rect x="207" y="276" width="1" height="48" fill="#000"/>
<rect x="205" y="277" width="5" height="27" fill="#000"/>
<rect x="206" y="278" width="3" height="25" fill="#fff"/>
<rect x="215" y="257" width="1" height="38" fill="#000"/>
<rect x="213" y="260" width="5" height="21" fill="#000"/>
<rect x="214" y="261" width="3" height="19" fill="#fff"/>
<rect x="223" y="255" width="1" height="25" fill="#000"/>
<rect x="221" y="256" width="5" height="5" fill="#000"/>
<rect x="231" y="225" width="1" height="38" fill="#000"/>
<rect x="229" y="235" width="5" height="20" fill="#000"/>
<rect x="230" y="236" width="3" height="18" fill="#fff"/>
<rect x="239" y="231" width="1" height="21" fill="#000"/>
<rect x="237" y="240" width="5" height="3" fill="#000"/>
<rect x="238" y="241" width="3" height="1" fill="#fff"/>
<rect x="247" y="250" width="1" height="43" fill="#000"/>
<rect x="245" y="260" width="5" height="25" fill="#000"/>
<rect x="255" y="236" width="1" height="25" fill="#000"/>
<rect x="253" y="241" width="5" height="13" fill="#000"/>
<rect x="254" y="242" width="3" height="11" fill="#fff"/>
<rect x="263" y="230" width="1" height="31" fill="#000"/>
<rect x="261" y="244" width="5" height="14" fill="#000"/>
<rect x="271" y="219" width="1" height="28" fill="#000"/>
<rect x="269" y="225" width="5" height="22" fill="#000"/>
<rect x="270" y="226" width="3" height="20" fill="#fff"/>
<rect x="279" y="199" width="1" height="40" fill="#000"/>
<rect x="277" y="211" width="5" height="11" fill="#000"/>
<rect x="278" y="212" width="3" height="9" fill="#fff"/>
<rect x="287" y="192" width="1" height="42" fill="#000"/>
<rect x="285" y="197" width="5" height="29" fill="#000"/>
<rect x="286" y="198" width="3" height="27" fill="#fff"/>
<rect x="295" y="177" width="1" height="27" fill="#000"/>
<rect x="293" y="185" width="5" height="5" fill="#000"/>
<rect x="303" y="177" width="1" height="29" fill="#000"/>
<rect x="301" y="180" width="5" height="23" fill="#000"/>
<rect x="311" y="176" width="1" height="33" fill="#000"/>
<rect x="309" y="192" width="5" height="12" fill="#000"/>
<rect x="319" y="187" width="1" height="33" fill="#000"/>
<rect x="317" y="203" width="5" height="8" fill="#000"/>
<rect x="327" y="194" width="1" height="18" fill="#000"/>
<rect x="325" y="204" width="5" height="1" fill="#000"/>
<rect x="335" y="155" width="1" height="51" fill="#000"/>
<rect x="333" y="190" width="5" height="2" fill="#000"/>
<rect x="343" y="180" width="1" height="30" fill="#000"/>
<rect x="341" y="189" width="5" height="14" fill="#000"/>
<rect x="342" y="190" width="3" height="12" fill="#fff"/>
<rect x="351" y="171" width="1" height="21" fill="#000"/>
<rect x="349" y="176" width="5" height="12" fill="#000"/>
<rect x="350" y="177" width="3" height="10" fill="#fff"/>
<rect x="359" y="178" width="1" height="28" fill="#000"/>
<rect x="357" y="187" width="5" height="19" fill="#000"/>
<rect x="367" y="226" width="1" height="30" fill="#000"/>
<rect x="365" y="229" width="5" height="22" fill="#000"/>
<rect x="375" y="223" width="1" height="41" fill="#000"/>
<rect x="373" y="227" width="5" height="38" fill="#000"/>
<rect x="374" y="228" width="3" height="36" fill="#fff"/>
<rect x="383" y="180" width="1" height="25" fill="#000"/>
<rect x="381" y="188" width="5" height="14" fill="#000"/>
<rect x="382" y="189" width="3" height="12" fill="#fff"/>
<rect x="391" y="182" width="1" height="25" fill="#000"/>
<rect x="389" y="187" width="5" height="10" fill="#000"/>
<rect x="399" y="183" width="1" height="27" fill="#000"/>
<rect x="397" y="189" width="5" height="3" fill="#000"/>
<rect x="398" y="190" width="3" height="1" fill="#fff"/>
<rect x="407" y="156" width="1" height="40" fill="#000"/>
<rect x="405" y="175" width="5" height="15" fill="#000"/>
<rect x="406" y="176" width="3" height="13" fill="#fff"/>
<rect x="415" y="138" width="1" height="36" fill="#000"/>
<rect x="413" y="143" width="5" height="25" fill="#000"/>
<rect x="414" y="144" width="3" height="23" fill="#fff"/>
<rect x="423" y="129" width="1" height="20" fill="#000"/>
<rect x="421" y="133" width="5" height="13" fill="#000"/>
<rect x="422" y="134" width="3" height="11" fill="#fff"/>
<rect x="431" y="136" width="1" height="20" fill="#000"/>
<rect x="429" y="143" width="5" height="7" fill="#000"/>
<rect x="439" y="135" width="1" height="38" fill="#000"/>
<rect x="437" y="149" width="5" height="20" fill="#000"/>
<rect x="447" y="154" width="1" height="41" fill="#000"/>
<rect x="445" y="158" width="5" height="14" fill="#000"/>
<rect x="455" y="209" width="1" height="24" fill="#000"/>
<rect x="453" y="224" width="5" height="2" fill="#000"/>
<rect x="463" y="202" width="1" height="33" fill="#000"/>
<rect x="461" y="205" width="5" height="18" fill="#000"/>
<rect x="471" y="196" width="1" height="22" fill="#000"/>
<rect x="469" y="206" width="5" height="7" fill="#000"/>
<rect x="470" y="207" width="3" height="5" fill="#fff"/>
<rect x="479" y="191" width="1" height="28" fill="#000"/>
<rect x="477" y="201" width="5" height="17" fill="#000"/>
<rect x="478" y="202" width="3" height="15" fill="#fff"/>
<rect x="487" y="162" width="1" height="39" fill="#000"/>
<rect x="485" y="172" width="5" height="24" fill="#000"/>
<rect x="486" y="173" width="3" height="22" fill="#fff"/>
<rect x="495" y="116" width="1" height="25" fill="#000"/>
<rect x="493" y="125" width="5" height="13" fill="#000"/>
<rect x="494" y="126" width="3" height="11" fill="#fff"/>
<rect x="503" y="110" width="1" height="16" fill="#000"/>
<rect x="501" y="110" width="5" height="5" fill="#000"/>
<rect x="502" y="111" width="3" height="3" fill="#fff"/>
<rect x="511" y="81" width="1" height="29" fill="#000"/>
<rect x="509" y="90" width="5" height="17" fill="#000"/>
<rect x="510" y="91" width="3" height="15" fill="#fff"/>
<rect x="519" y="77" width="1" height="28" fill="#000"/>
<rect x="517" y="84" width="5" height="3" fill="#000"/>
<rect x="527" y="66" width="1" height="24" fill="#000"/>
<rect x="525" y="72" width="5" height="4" fill="#000"/>
<rect x="535" y="59" width="1" height="22" fill="#000"/>
<rect x="533" y="67" width="5" height="6" fill="#000"/>
<rect x="534" y="68" width="3" height="4" fill="#fff"/>
<rect x="543" y="68" width="1" height="24" fill="#000"/>
<rect x="541" y="75" width="5" height="4" fill="#000"/>
<rect x="542" y="76" width="3" height="2" fill="#fff"/>
<rect x="551" y="65" width="1" height="41" fill="#000"/>
<rect x="549" y="71" width="5" height="33" fill="#000"/>
<rect x="559" y="87" width="1" height="27" fill="#000"/>
<rect x="557" y="91" width="5" height="7" fill="#000"/>
<rect x="558" y="92" width="3" height="5" fill="#fff"/>
<rect x="567" y="55" width="1" height="53" fill="#000"/>
<rect x="565" y="72" width="5" height="31" fill="#000"/>
<rect x="575" y="69" width="1" height="46" fill="#000"/>
<rect x="573" y="75" width="5" height="31" fill="#000"/>
<rect x="574" y="76" width="3" height="29" fill="#fff"/>
<rect x="583" y="67" width="1" height="19" fill="#000"/>
<rect x="581" y="72" width="5" height="1" fill="#000"/>
<rect x="591" y="76" width="1" height="22" fill="#000"/>
<rect x="589" y="83" width="5" height="10" fill="#000"/>
<rect x="599" y="80" width="1" height="31" fill="#000"/>
<rect x="597" y="91" width="5" height="4" fill="#000"/>
<rect x="598" y="92" width="3" height="2" fill="#fff"/>
<rect x="607" y="75" width="1" height="44" fill="#000"/>
<rect x="605" y="79" width="5" height="31" fill="#000"/>
<rect x="615" y="101" width="1" height="32" fill="#000"/>
<rect x="613" y="120" width="5" height="12" fill="#000"/>
<rect x="623" y="134" width="1" height="23" fill="#000"/>
<rect x="621" y="144" width="5" height="14" fill="#000"/>
<rect x="622" y="145" width="3" height="12" fill="#fff"/>
<rect x="631" y="112" width="1" height="29" fill="#000"/>
<rect x="629" y="116" width="5" height="16" fill="#000"/>
<rect x="630" y="117" width="3" height="14" fill="#fff"/>
<rect x="639" y="122" width="1" height="24" fill="#000"/>
<rect x="637" y="124" width="5" height="13" fill="#000"/>
<rect x="647" y="111" width="1" height="33" fill="#000"/>
<rect x="645" y="118" width="5" height="24" fill="#000"/>
<rect x="646" y="119" width="3" height="22" fill="#fff"/>
<rect x="655" y="99" width="1" height="44" fill="#000"/>
<rect x="653" y="99" width="5" height="30" fill="#000"/>
<rect x="654" y="100" width="3" height="28" fill="#fff"/>
<rect x="663" y="152" width="1" height="57" fill="#000"/>
<rect x="661" y="152" width="5" height="31" fill="#000"/>
<rect x="671" y="157" width="1" height="30" fill="#000"/>
<rect x="669" y="169" width="5" height="2" fill="#000"/>
<rect x="679" y="181" width="1" height="33" fill="#000"/>
<rect x="677" y="198" width="5" height="17" fill="#000"/>
<rect x="678" y="199" width="3" height="15" fill="#fff"/>
<rect x="687" y="212" width="1" height="60" fill="#000"/>
<rect x="685" y="215" width="5" height="55" fill="#000"/>
<rect x="695" y="217" width="1" height="62" fill="#000"/>
<rect x="693" y="242" width="5" height="1" fill="#000"/>
<rect x="703" y="275" width="1" height="35" fill="#000"/>
<rect x="701" y="285" width="5" height="22" fill="#000"/>
<rect x="702" y="286" width="3" height="20" fill="#fff"/>
<rect x="711" y="256" width="1" height="32" fill="#000"/>
<rect x="709" y="266" width="5" height="20" fill="#000"/>
<rect x="710" y="267" width="3" height="18" fill="#fff"/>
<rect x="719" y="258" width="1" height="34" fill="#000"/>
<rect x="717" y="264" width="5" height="24" fill="#000"/>
<rect x="718" y="265" width="3" height="22" fill="#fff"/>
<rect x="727" y="246" width="1" height="57" fill="#000"/>
<rect x="725" y="248" width="5" height="50" fill="#000"/>
<rect x="735" y="287" width="1" height="29" fill="#000"/>
<rect x="733" y="287" width="5" height="21" fill="#000"/>
<rect x="743" y="288" width="1" height="35" fill="#000"/>
<rect x="741" y="313" width="5" height="1" fill="#000"/>
<rect x="751" y="298" width="1" height="19" fill="#000"/>
<rect x="749" y="308" width="5" height="4" fill="#000"/>
<rect x="750" y="309" width="3" height="2" fill="#fff"/>
<rect x="759" y="321" width="1" height="33" fill="#000"/>
<rect x="757" y="330" width="5" height="15" fill="#000"/>
<rect x="767" y="324" width="1" height="20" fill="#000"/>
<rect x="765" y="336" width="5" height="8" fill="#000"/>
<rect x="766" y="337" width="3" height="6" fill="#fff"/>
<rect x="775" y="332" width="1" height="27" fill="#000"/>
<rect x="773" y="338" width="5" height="7" fill="#000"/>
<rect x="783" y="323" width="1" height="26" fill="#000"/>
<rect x="781" y="335" width="5" height="9" fill="#000"/>
<rect x="782" y="336" width="3" height="7" fill="#fff"/>
<rect x="791" y="342" width="1" height="23" fill="#000"/>
<rect x="789" y="358" width="5" height="2" fill="#000"/>
<rect x="799" y="350" width="1" height="30" fill="#000"/>
<rect x="797" y="353" width="5" height="19" fill="#000"/>
<rect x="807" y="363" width="1" height="30" fill="#000"/>
<rect x="805" y="382" width="5" height="10" fill="#000"/>
<rect x="815" y="381" width="1" height="23" fill="#000"/>
<rect x="813" y="386" width="5" height="6" fill="#000"/>
<rect x="823" y="375" width="1" height="36" fill="#000"/>
<rect x="821" y="376" width="5" height="26" fill="#000"/>
<rect x="831" y="365" width="1" height="32" fill="#000"/>
<rect x="829" y="372" width="5" height="11" fill="#000"/>
<rect x="839" y="376" width="1" height="17" fill="#000"/>
<rect x="837" y="379" width="5" height="9" fill="#000"/>
<rect x="838" y="380" width="3" height="7" fill="#fff"/>
<rect x="847" y="317" width="1" height="47" fill="#000"/>
<rect x="845" y="321" width="5" height="33" fill="#000"/>
<rect x="846" y="322" width="3" height="31" fill="#fff"/>
<rect x="855" y="295" width="1" height="25" fill="#000"/>
<rect x="853" y="300" width="5" height="16" fill="#000"/>
<rect x="854" y="301" width="3" height="14" fill="#fff"/>
<rect x="863" y="311" width="1" height="45" fill="#000"/>
<rect x="861" y="311" width="5" height="43" fill="#000"/>
<rect x="871" y="346" width="1" height="47" fill="#000"/>
<rect x="869" y="350" width="5" height="11" fill="#000"/>
<rect x="870" y="351" width="3" height="9" fill="#fff"/>
<rect x="879" y="350" width="1" height="20" fill="#000"/>
<rect x="877" y="354" width="5" height="7" fill="#000"/>
<rect x="887" y="323" width="1" height="43" fill="#000"/>
<rect x="885" y="351" width="5" height="14" fill="#000"/>
<rect x="886" y="352" width="3" height="12" fill="#fff"/>
<rect x="895" y="318" width="1" height="38" fill="#000"/>
<rect x="893" y="324" width="5" height="23" fill="#000"/>
<rect x="894" y="325" width="3" height="21" fill="#fff"/>
<rect x="903" y="254" width="1" height="25" fill="#000"/>
<rect x="901" y="258" width="5" height="21" fill="#000"/>
<rect x="902" y="259" width="3" height="19" fill="#fff"/>
<rect x="911" y="224" width="1" height="31" fill="#000"/>
<rect x="909" y="225" width="5" height="18" fill="#000"/>
<rect x="910" y="226" width="3" height="16" fill="#fff"/>
<rect x="919" y="222" width="1" height="23" fill="#000"/>
<rect x="917" y="225" width="5" height="9" fill="#000"/>
<rect x="927" y="216" width="1" height="28" fill="#000"/>
<rect x="925" y="233" width="5" height="7" fill="#000"/>
<rect x="926" y="234" width="3" height="5" fill="#fff"/>
<rect x="935" y="226" width="1" height="39" fill="#000"/>
<rect x="933" y="232" width="5" height="26" fill="#000"/>
<rect x="943" y="251" width="1" height="27" fill="#000"/>
<rect x="941" y="258" width="5" height="11" fill="#000"/>
<rect x="942" y="259" width="3" height="9" fill="#fff"/>
<rect x="951" y="216" width="1" height="33" fill="#000"/>
<rect x="949" y="220" width="5" height="23" fill="#000"/>
<rect x="950" y="221" width="3" height="21" fill="#fff"/>
<rect x="959" y="219" width="1" height="20" fill="#000"/>
<rect x="957" y="224" width="5" height="2" fill="#000"/>
<rect x="967" y="174" width="1" height="25" fill="#000"/>
<rect x="965" y="185" width="5" height="3" fill="#000"/>
<rect x="966" y="186" width="3" height="1" fill="#fff"/>
<rect x="975" y="185" width="1" height="17" fill="#000"/>
<rect x="973" y="186" width="5" height="7" fill="#000"/>
<rect x="974" y="187" width="3" height="5" fill="#fff"/>
<rect x="983" y="172" width="1" height="23" fill="#000"/>
<rect x="981" y="182" width="5" height="12" fill="#000"/>
<rect x="991" y="183" width="1" height="20" fill="#000"/>
<rect x="989" y="192" width="5" height="8" fill="#000"/>
<rect x="999" y="212" width="1" height="41" fill="#000"/>
<rect x="997" y="212" width="5" height="27" fill="#000"/>
<rect x="1007" y="234" width="1" height="30" fill="#000"/>
<rect x="1005" y="236" width="5" height="27" fill="#000"/>
<rect x="1015" y="241" width="1" height="17" fill="#000"/>
<rect x="1013" y="244" width="5" height="10" fill="#000"/>
<rect x="1023" y="215" width="1" height="23" fill="#000"/>
<rect x="1021" y="230" width="5" height="5" fill="#000"/>
<rect x="1022" y="231" width="3" height="3" fill="#fff"/>
<rect x="1031" y="215" width="1" height="23" fill="#000"/>
<rect x="1029" y="222" width="5" height="13" fill="#000"/>
<rect x="1030" y="223" width="3" height="11" fill="#fff"/>
<rect x="1039" y="216" width="1" height="50" fill="#000"/>
<rect x="1037" y="223" width="5" height="16" fill="#000"/>
<rect x="1038" y="224" width="3" height="14" fill="#fff"/>
<rect x="1047" y="210" width="1" height="19" fill="#000"/>
<rect x="1045" y="214" width="5" height="1" fill="#000"/>
<rect x="1055" y="212" width="1" height="26" fill="#000"/>
<rect x="1053" y="215" width="5" height="13" fill="#000"/>
<rect x="1054" y="216" width="3" height="11" fill="#fff"/>
<rect x="1063" y="223" width="1" height="21" fill="#000"/>
<rect x="1061" y="233" width="5" height="11" fill="#000"/>
<rect x="1062" y="234" width="3" height="9" fill="#fff"/>
<rect x="1071" y="194" width="1" height="24" fill="#000"/>
<rect x="1069" y="196" width="5" height="20" fill="#000"/>
<rect x="1070" y="197" width="3" height="18" fill="#fff"/>
<rect x="1079" y="208" width="1" height="38" fill="#000"/>
<rect x="1077" y="215" width="5" height="23" fill="#000"/>
<rect x="1087" y="226" width="1" height="19" fill="#000"/>
<rect x="1085" y="229" width="5" height="6" fill="#000"/>
<rect x="1086" y="230" width="3" height="4" fill="#fff"/>
<rect x="1095" y="200" width="1" height="24" fill="#000"/>
<rect x="1093" y="217" width="5" height="6" fill="#000"/>
<rect x="1103" y="212" width="1" height="12" fill="#000"/>
<rect x="1101" y="217" width="5" height="4" fill="#000"/>
<rect x="1102" y="218" width="3" height="2" fill="#fff"/>
<rect x="1111" y="231" width="1" height="15" fill="#000"/>
<rect x="1109" y="238" width="5" height="3" fill="#000"/>
<rect x="1119" y="245" width="1" height="37" fill="#000"/>
<rect x="1117" y="250" width="5" height="14" fill="#000"/>
<rect x="1127" y="252" width="1" height="18" fill="#000"/>
<rect x="1125" y="261" width="5" height="5" fill="#000"/>
<rect x="1126" y="262" width="3" height="3" fill="#fff"/>
<rect x="1135" y="277" width="1" height="29" fill="#000"/>
<rect x="1133" y="277" width="5" height="18" fill="#000"/>
<rect x="1143" y="302" width="1" height="26" fill="#000"/>
<rect x="1141" y="316" width="5" height="8" fill="#000"/>
<rect x="1151" y="369" width="1" height="18" fill="#000"/>
<rect x="1149" y="382" width="5" height="4" fill="#000"/>
<rect x="1150" y="383" width="3" height="2" fill="#fff"/>
<rect x="1159" y="404" width="1" height="54" fill="#000"/>
<rect x="1157" y="417" width="5" height="40" fill="#000"/>
<rect x="1167" y="456" width="1" height="75" fill="#000"/>
<rect x="1165" y="461" width="5" height="70" fill="#000"/>
<rect x="1166" y="462" width="3" height="68" fill="#fff"/>
<rect x="1175" y="461" width="1" height="31" fill="#000"/>
<rect x="1173" y="463" width="5" height="4" fill="#000"/>
<rect x="1174" y="464" width="3" height="2" fill="#fff"/>
<rect x="1183" y="435" width="1" height="36" fill="#000"/>
<rect x="1181" y="456" width="5" height="10" fill="#000"/>
<rect x="1182" y="457" width="3" height="8" fill="#fff"/>
<rect x="1191" y="439" width="1" height="35" fill="#000"/>
<rect x="1189" y="448" width="5" height="22" fill="#000"/>
<rect x="1199" y="457" width="1" height="43" fill="#000"/>
<rect x="1197" y="483" width="5" height="17" fill="#000"/>
<rect x="1207" y="501" width="1" height="35" fill="#000"/>
<rect x="1205" y="515" width="5" height="18" fill="#000"/>
<rect x="1215" y="489" width="1" height="55" fill="#000"/>
<rect x="1213" y="490" width="5" height="42" fill="#000"/>
<rect x="1223" y="506" width="1" height="63" fill="#000"/>
<rect x="1221" y="511" width="5" height="58" fill="#000"/>
<rect x="1222" y="512" width="3" height="56" fill="#fff"/>
<rect x="1231" y="482" width="1" height="47" fill="#000"/>
<rect x="1229" y="491" width="5" height="22" fill="#000"/>
<rect x="1230" y="492" width="3" height="20" fill="#fff"/>
<rect x="1239" y="432" width="1" height="41" fill="#000"/>
<rect x="1237" y="440" width="5" height="27" fill="#000"/>
<rect x="1238" y="441" width="3" height="25" fill="#fff"/>
<rect x="1247" y="432" width="1" height="21" fill="#000"/>
<rect x="1245" y="437" width="5" height="6" fill="#000"/>
<rect x="1246" y="438" width="3" height="4" fill="#fff"/>
<rect x="1255" y="432" width="1" height="25" fill="#000"/>
<rect x="1253" y="436" width="5" height="16" fill="#000"/>
<rect x="1254" y="437" width="3" height="14" fill="#fff"/>
<rect x="1263" y="432" width="1" height="34" fill="#000"/>
<rect x="1261" y="433" width="5" height="29" fill="#000"/>
<rect x="1271" y="440" width="1" height="30" fill="#000"/>
<rect x="1269" y="447" width="5" height="17" fill="#000"/>
<rect x="1270" y="448" width="3" height="15" fill="#fff"/>
<rect x="1279" y="483" width="1" height="54" fill="#000"/>
<rect x="1277" y="489" width="5" height="30" fill="#000"/>
<rect x="1278" y="490" width="3" height="28" fill="#fff"/>
<rect x="1287" y="479" width="1" height="23" fill="#000"/>
<rect x="1285" y="487" width="5" height="4" fill="#000"/>
<rect x="1295" y="479" width="1" height="28" fill="#000"/>
<rect x="1293" y="489" width="5" height="12" fill="#000"/>
<rect x="1303" y="489" width="1" height="38" fill="#000"/>
<rect x="1301" y="490" width="5" height="11" fill="#000"/>
<rect x="1302" y="491" width="3" height="9" fill="#fff"/>
<rect x="1311" y="464" width="1" height="49" fill="#000"/>
<rect x="1309" y="468" width="5" height="27" fill="#000"/>
<rect x="1319" y="497" width="1" height="18" fill="#000"/>
<rect x="1317" y="503" width="5" height="9" fill="#000"/>
<rect x="1318" y="504" width="3" height="7" fill="#fff"/>
<rect x="1327" y="489" width="1" height="30" fill="#000"/>
<rect x="1325" y="507" width="5" height="13" fill="#000"/>
<rect x="1326" y="508" width="3" height="11" fill="#fff"/>
<rect x="1335" y="398" width="1" height="105" fill="#000"/>
<rect x="1333" y="413" width="5" height="88" fill="#000"/>
<rect x="1334" y="414" width="3" height="86" fill="#fff"/>
<rect x="1343" y="395" width="1" height="27" fill="#000"/>
<rect x="1341" y="418" width="5" height="1" fill="#000"/>
<rect x="1351" y="387" width="1" height="26" fill="#000"/>
<rect x="1349" y="393" width="5" height="11" fill="#000"/>
<rect x="1359" y="384" width="1" height="20" fill="#000"/>
<rect x="1357" y="393" width="5" height="5" fill="#000"/>
<rect x="1367" y="379" width="1" height="23" fill="#000"/>
<rect x="1365" y="386" width="5" height="14" fill="#000"/>
<rect x="1375" y="350" width="1" height="46" fill="#000"/>
<rect x="1373" y="355" width="5" height="30" fill="#000"/>
<rect x="1374" y="356" width="3" height="28" fill="#fff"/>
<rect x="-3" y="497" width="5" height="5" fill="#000"/>
<rect x="-2" y="498" width="3" height="3" fill="#fff"/>
</g>
<rect x="1341" y="367" width="66" height="12" fill="#00ff00"/>
<g shape-rendering="crispEdges">
<rect x="1375" y="350" width="1" height="46" fill="#000"/>
<rect x="1373" y="355" width="5" height="30" fill="#000"/>
<rect x="1374" y="356" width="3" height="28" fill="#fff"/>
</g>
<rect x="-2" y="314" width="6" height="6" fill="#ff0000"/>
<rect x="0" y="316" width="2" height="2" fill="#fff"/>
<rect x="1621" y="314" width="6" height="6" fill="#ff0000"/>
<rect x="1623" y="316" width="2" height="2" fill="#fff"/>
<rect x="-2" y="333" width="6" height="6" fill="#ff0000"/>
<rect x="0" y="335" width="2" height="2" fill="#fff"/>
<rect x="1621" y="333" width="6" height="6" fill="#ff0000"/>
<rect x="1623" y="335" width="2" height="2" fill="#fff"/>
<rect x="-2" y="368" width="6" height="6" fill="#32cd32"/>
<rect x="0" y="370" width="2" height="2" fill="#fff"/>
<rect x="1621" y="368" width="6" height="6" fill="#32cd32"/>
<rect x="1623" y="370" width="2" height="2" fill="#fff"/>
<rect x="-2" y="395" width="6" height="6" fill="#0000ff"/>
<rect x="0" y="397" width="2" height="2" fill="#fff"/>
<rect x="1621" y="395" width="6" height="6" fill="#0000ff"/>
<rect x="1623" y="397" width="2" height="2" fill="#fff"/>
<rect x="-2" y="410" width="6" height="6" fill="#0000ff"/>
<rect x="0" y="412" width="2" height="2" fill="#fff"/>
<rect x="1621" y="410" width="6" height="6" fill="#0000ff"/>
<rect x="1623" y="412" width="2" height="2" fill="#fff"/>
<rect x="1480" y="370" width="8" height="2" fill="#ff0000"/>
<rect x="1487" y="368" width="3" height="6" fill="#ff0000"/>
<rect x="1488" y="369" width="1" height="4" fill="#fff"/>
<rect x="1490" y="355" width="100" height="33" fill="#ff0000"/>
<rect x="1491" y="356" width="98" height="31" fill="#fff"/>
<text x="1492" y="381.7" font-size="28.4" fill="#ff0000" textLength="95.7" lengthAdjust="spacingAndGlyphs">26927.0</text>
<text x="1406" y="459" font-size="31" font-weight="500" font-family="'Liberation Serif','Noto Serif CJK SC',serif" fill="#0a300a" textLength="161">多空转折点</text>
<text x="1405" y="458" font-size="31" font-weight="500" font-family="'Liberation Serif','Noto Serif CJK SC',serif" fill="#00ff00" textLength="161">多空转折点</text>
<rect x="0" y="28" width="1628" height="1" fill="#000"/>
<rect x="1627" y="28" width="1" height="554" fill="#000"/>
<rect x="0" y="581" width="1628" height="1" fill="#000"/>
<rect x="0" y="583" width="1628" height="1" fill="#000"/>
<rect x="1627" y="583" width="1" height="184" fill="#000"/>
<rect x="0" y="766" width="1628" height="1" fill="#000"/>
<rect x="0" y="768" width="1628" height="1" fill="#000"/>
<rect x="1627" y="768" width="1" height="161" fill="#000"/>
<rect x="0" y="928" width="1628" height="1" fill="#000"/>
<polygon points="1376,29 1387,29 1381.5,34.5" fill="#c0c0c0"/>
<rect x="1628" y="50" width="2" height="1" fill="#000"/>
<text x="1633" y="54" font-size="9" fill="#000" textLength="33" lengthAdjust="spacingAndGlyphs">30380.0</text>
<rect x="1628" y="83" width="2" height="1" fill="#000"/>
<text x="1633" y="87" font-size="9" fill="#000" textLength="33" lengthAdjust="spacingAndGlyphs">30033.5</text>
<rect x="1628" y="116" width="2" height="1" fill="#000"/>
<text x="1633" y="120" font-size="9" fill="#000" textLength="33" lengthAdjust="spacingAndGlyphs">29676.5</text>
<rect x="1628" y="149" width="2" height="1" fill="#000"/>
<text x="1633" y="153" font-size="9" fill="#000" textLength="33" lengthAdjust="spacingAndGlyphs">29319.5</text>
<rect x="1628" y="182" width="2" height="1" fill="#000"/>
<text x="1633" y="186" font-size="9" fill="#000" textLength="33" lengthAdjust="spacingAndGlyphs">28962.5</text>
<rect x="1628" y="215" width="2" height="1" fill="#000"/>
<text x="1633" y="219" font-size="9" fill="#000" textLength="33" lengthAdjust="spacingAndGlyphs">28605.5</text>
<rect x="1628" y="248" width="2" height="1" fill="#000"/>
<text x="1633" y="252" font-size="9" fill="#000" textLength="33" lengthAdjust="spacingAndGlyphs">28248.5</text>
<rect x="1628" y="281" width="2" height="1" fill="#000"/>
<text x="1633" y="285" font-size="9" fill="#000" textLength="33" lengthAdjust="spacingAndGlyphs">27891.5</text>
<rect x="1628" y="347" width="2" height="1" fill="#000"/>
<text x="1633" y="351" font-size="9" fill="#000" textLength="33" lengthAdjust="spacingAndGlyphs">27188.0</text>
<rect x="1628" y="380" width="2" height="1" fill="#000"/>
<text x="1633" y="384" font-size="9" fill="#000" textLength="33" lengthAdjust="spacingAndGlyphs">26831.0</text>
<rect x="1628" y="446" width="2" height="1" fill="#000"/>
<text x="1633" y="450" font-size="9" fill="#000" textLength="33" lengthAdjust="spacingAndGlyphs">26117.0</text>
<rect x="1628" y="479" width="2" height="1" fill="#000"/>
<text x="1633" y="483" font-size="9" fill="#000" textLength="33" lengthAdjust="spacingAndGlyphs">25760.0</text>
<rect x="1628" y="512" width="2" height="1" fill="#000"/>
<text x="1633" y="516" font-size="9" fill="#000" textLength="33" lengthAdjust="spacingAndGlyphs">25403.0</text>
<rect x="1628" y="545" width="2" height="1" fill="#000"/>
<text x="1633" y="549" font-size="9" fill="#000" textLength="33" lengthAdjust="spacingAndGlyphs">25046.0</text>
<rect x="1628" y="578" width="2" height="1" fill="#000"/>
<text x="1633" y="582" font-size="9" fill="#000" textLength="33" lengthAdjust="spacingAndGlyphs">24699.5</text>
<rect x="1629" y="311" width="41" height="11" fill="#ff0000"/>
<text x="1633" y="320" font-size="9" fill="#fff" textLength="33" lengthAdjust="spacingAndGlyphs">27507.9</text>
<rect x="1629" y="330" width="41" height="11" fill="#ff0000"/>
<text x="1633" y="339" font-size="9" fill="#fff" textLength="33" lengthAdjust="spacingAndGlyphs">27303.5</text>
<rect x="1629" y="350" width="41" height="11" fill="#000"/>
<text x="1633" y="359" font-size="9" fill="#fff" textLength="33" lengthAdjust="spacingAndGlyphs">27103.0</text>
<rect x="1629" y="365" width="41" height="11" fill="#32cd32"/>
<text x="1633" y="374" font-size="9" fill="#fff" textLength="33" lengthAdjust="spacingAndGlyphs">26927.0</text>
<rect x="1629" y="392" width="41" height="11" fill="#0000ff"/>
<text x="1633" y="401" font-size="9" fill="#fff" textLength="33" lengthAdjust="spacingAndGlyphs">26636.6</text>
<rect x="1629" y="407" width="41" height="11" fill="#0000ff"/>
<text x="1633" y="416" font-size="9" fill="#fff" textLength="33" lengthAdjust="spacingAndGlyphs">26475.2</text>
<g shape-rendering="crispEdges">
<rect x="7" y="658" width="1" height="18" fill="#c0c0c0"/>
<rect x="15" y="658" width="1" height="25" fill="#c0c0c0"/>
<rect x="23" y="658" width="1" height="30" fill="#c0c0c0"/>
<rect x="31" y="658" width="1" height="28" fill="#c0c0c0"/>
<rect x="39" y="658" width="1" height="23" fill="#c0c0c0"/>
<rect x="47" y="658" width="1" height="19" fill="#c0c0c0"/>
<rect x="55" y="658" width="1" height="9" fill="#c0c0c0"/>
<rect x="63" y="658" width="1" height="2" fill="#c0c0c0"/>
<rect x="71" y="651" width="1" height="8" fill="#c0c0c0"/>
<rect x="79" y="649" width="1" height="10" fill="#c0c0c0"/>
<rect x="87" y="643" width="1" height="16" fill="#c0c0c0"/>
<rect x="95" y="637" width="1" height="22" fill="#c0c0c0"/>
<rect x="103" y="633" width="1" height="26" fill="#c0c0c0"/>
<rect x="111" y="628" width="1" height="31" fill="#c0c0c0"/>
<rect x="119" y="622" width="1" height="37" fill="#c0c0c0"/>
<rect x="127" y="621" width="1" height="38" fill="#c0c0c0"/>
<rect x="135" y="621" width="1" height="38" fill="#c0c0c0"/>
<rect x="143" y="619" width="1" height="40" fill="#c0c0c0"/>
<rect x="151" y="614" width="1" height="45" fill="#c0c0c0"/>
<rect x="159" y="610" width="1" height="49" fill="#c0c0c0"/>
<rect x="167" y="609" width="1" height="50" fill="#c0c0c0"/>
<rect x="175" y="606" width="1" height="53" fill="#c0c0c0"/>
<rect x="183" y="601" width="1" height="58" fill="#c0c0c0"/>
<rect x="191" y="600" width="1" height="59" fill="#c0c0c0"/>
<rect x="199" y="599" width="1" height="60" fill="#c0c0c0"/>
<rect x="207" y="599" width="1" height="60" fill="#c0c0c0"/>
<rect x="215" y="597" width="1" height="62" fill="#c0c0c0"/>
<rect x="223" y="597" width="1" height="62" fill="#c0c0c0"/>
<rect x="231" y="594" width="1" height="65" fill="#c0c0c0"/>
<rect x="239" y="594" width="1" height="65" fill="#c0c0c0"/>
<rect x="247" y="599" width="1" height="60" fill="#c0c0c0"/>
<rect x="255" y="599" width="1" height="60" fill="#c0c0c0"/>
<rect x="263" y="601" width="1" height="58" fill="#c0c0c0"/>
<rect x="271" y="599" width="1" height="60" fill="#c0c0c0"/>
<rect x="279" y="599" width="1" height="60" fill="#c0c0c0"/>
<rect x="287" y="597" width="1" height="62" fill="#c0c0c0"/>
<rect x="295" y="595" width="1" height="64" fill="#c0c0c0"/>
<rect x="303" y="595" width="1" height="64" fill="#c0c0c0"/>
<rect x="311" y="597" width="1" height="62" fill="#c0c0c0"/>
<rect x="319" y="599" width="1" height="60" fill="#c0c0c0"/>
<rect x="327" y="601" width="1" height="58" fill="#c0c0c0"/>
<rect x="335" y="602" width="1" height="57" fill="#c0c0c0"/>
<rect x="343" y="603" width="1" height="56" fill="#c0c0c0"/>
<rect x="351" y="603" width="1" height="56" fill="#c0c0c0"/>
<rect x="359" y="607" width="1" height="52" fill="#c0c0c0"/>
<rect x="367" y="616" width="1" height="43" fill="#c0c0c0"/>
<rect x="375" y="620" width="1" height="39" fill="#c0c0c0"/>
<rect x="383" y="620" width="1" height="39" fill="#c0c0c0"/>
<rect x="391" y="621" width="1" height="38" fill="#c0c0c0"/>
<rect x="399" y="622" width="1" height="37" fill="#c0c0c0"/>
<rect x="407" y="621" width="1" height="38" fill="#c0c0c0"/>
<rect x="415" y="618" width="1" height="41" fill="#c0c0c0"/>
<rect x="423" y="614" width="1" height="45" fill="#c0c0c0"/>
<rect x="431" y="614" width="1" height="45" fill="#c0c0c0"/>
<rect x="439" y="617" width="1" height="42" fill="#c0c0c0"/>
<rect x="447" y="619" width="1" height="40" fill="#c0c0c0"/>
<rect x="455" y="627" width="1" height="32" fill="#c0c0c0"/>
<rect x="463" y="634" width="1" height="25" fill="#c0c0c0"/>
<rect x="471" y="637" width="1" height="22" fill="#c0c0c0"/>
<rect x="479" y="640" width="1" height="19" fill="#c0c0c0"/>
<rect x="487" y="639" width="1" height="20" fill="#c0c0c0"/>
<rect x="495" y="633" width="1" height="26" fill="#c0c0c0"/>
<rect x="503" y="630" width="1" height="29" fill="#c0c0c0"/>
<rect x="511" y="621" width="1" height="38" fill="#c0c0c0"/>
<rect x="519" y="616" width="1" height="43" fill="#c0c0c0"/>
<rect x="527" y="612" width="1" height="47" fill="#c0c0c0"/>
<rect x="535" y="608" width="1" height="51" fill="#c0c0c0"/>
<rect x="543" y="606" width="1" height="53" fill="#c0c0c0"/>
<rect x="551" y="608" width="1" height="51" fill="#c0c0c0"/>
<rect x="559" y="610" width="1" height="49" fill="#c0c0c0"/>
<rect x="567" y="612" width="1" height="47" fill="#c0c0c0"/>
<rect x="575" y="612" width="1" height="47" fill="#c0c0c0"/>
<rect x="583" y="612" width="1" height="47" fill="#c0c0c0"/>
<rect x="591" y="614" width="1" height="45" fill="#c0c0c0"/>
<rect x="599" y="617" width="1" height="42" fill="#c0c0c0"/>
<rect x="607" y="621" width="1" height="38" fill="#c0c0c0"/>
<rect x="615" y="628" width="1" height="31" fill="#c0c0c0"/>
<rect x="623" y="634" width="1" height="25" fill="#c0c0c0"/>
<rect x="631" y="637" width="1" height="22" fill="#c0c0c0"/>
<rect x="639" y="641" width="1" height="18" fill="#c0c0c0"/>
<rect x="647" y="643" width="1" height="16" fill="#c0c0c0"/>
<rect x="655" y="642" width="1" height="17" fill="#c0c0c0"/>
<rect x="663" y="651" width="1" height="8" fill="#c0c0c0"/>
<rect x="671" y="657" width="1" height="2" fill="#c0c0c0"/>
<rect x="679" y="658" width="1" height="6" fill="#c0c0c0"/>
<rect x="687" y="658" width="1" height="20" fill="#c0c0c0"/>
<rect x="695" y="658" width="1" height="26" fill="#c0c0c0"/>
<rect x="703" y="658" width="1" height="38" fill="#c0c0c0"/>
<rect x="711" y="658" width="1" height="43" fill="#c0c0c0"/>
<rect x="719" y="658" width="1" height="47" fill="#c0c0c0"/>
<rect x="727" y="658" width="1" height="53" fill="#c0c0c0"/>
<rect x="735" y="658" width="1" height="58" fill="#c0c0c0"/>
<rect x="743" y="658" width="1" height="62" fill="#c0c0c0"/>
<rect x="751" y="658" width="1" height="64" fill="#c0c0c0"/>
<rect x="759" y="658" width="1" height="68" fill="#c0c0c0"/>
<rect x="767" y="658" width="1" height="71" fill="#c0c0c0"/>
<rect x="775" y="658" width="1" height="72" fill="#c0c0c0"/>
<rect x="783" y="658" width="1" height="72" fill="#c0c0c0"/>
<rect x="791" y="658" width="1" height="73" fill="#c0c0c0"/>
<rect x="799" y="658" width="1" height="75" fill="#c0c0c0"/>
<rect x="807" y="658" width="1" height="77" fill="#c0c0c0"/>
<rect x="815" y="658" width="1" height="79" fill="#c0c0c0"/>
<rect x="823" y="658" width="1" height="80" fill="#c0c0c0"/>
<rect x="831" y="658" width="1" height="77" fill="#c0c0c0"/>
<rect x="839" y="658" width="1" height="75" fill="#c0c0c0"/>
<rect x="847" y="658" width="1" height="65" fill="#c0c0c0"/>
<rect x="855" y="658" width="1" height="55" fill="#c0c0c0"/>
<rect x="863" y="658" width="1" height="52" fill="#c0c0c0"/>
<rect x="871" y="658" width="1" height="49" fill="#c0c0c0"/>
<rect x="879" y="658" width="1" height="47" fill="#c0c0c0"/>
<rect x="887" y="658" width="1" height="44" fill="#c0c0c0"/>
<rect x="895" y="658" width="1" height="38" fill="#c0c0c0"/>
<rect x="903" y="658" width="1" height="26" fill="#c0c0c0"/>
<rect x="911" y="658" width="1" height="11" fill="#c0c0c0"/>
<rect x="919" y="658" width="1" height="1" fill="#c0c0c0"/>
<rect x="927" y="653" width="1" height="6" fill="#c0c0c0"/>
<rect x="935" y="650" width="1" height="9" fill="#c0c0c0"/>
<rect x="943" y="648" width="1" height="11" fill="#c0c0c0"/>
<rect x="951" y="641" width="1" height="18" fill="#c0c0c0"/>
<rect x="959" y="638" width="1" height="21" fill="#c0c0c0"/>
<rect x="967" y="630" width="1" height="29" fill="#c0c0c0"/>
<rect x="975" y="625" width="1" height="34" fill="#c0c0c0"/>
<rect x="983" y="622" width="1" height="37" fill="#c0c0c0"/>
<rect x="991" y="621" width="1" height="38" fill="#c0c0c0"/>
<rect x="999" y="625" width="1" height="34" fill="#c0c0c0"/>
<rect x="1007" y="631" width="1" height="28" fill="#c0c0c0"/>
<rect x="1015" y="635" width="1" height="24" fill="#c0c0c0"/>
<rect x="1023" y="635" width="1" height="24" fill="#c0c0c0"/>
<rect x="1031" y="635" width="1" height="24" fill="#c0c0c0"/>
<rect x="1039" y="636" width="1" height="23" fill="#c0c0c0"/>
<rect x="1047" y="636" width="1" height="23" fill="#c0c0c0"/>
<rect x="1055" y="636" width="1" height="23" fill="#c0c0c0"/>
<rect x="1063" y="638" width="1" height="21" fill="#c0c0c0"/>
<rect x="1071" y="636" width="1" height="23" fill="#c0c0c0"/>
<rect x="1079" y="640" width="1" height="19" fill="#c0c0c0"/>
<rect x="1087" y="641" width="1" height="18" fill="#c0c0c0"/>
<rect x="1095" y="643" width="1" height="16" fill="#c0c0c0"/>
<rect x="1103" y="643" width="1" height="16" fill="#c0c0c0"/>
<rect x="1111" y="645" width="1" height="14" fill="#c0c0c0"/>
<rect x="1119" y="650" width="1" height="9" fill="#c0c0c0"/>
<rect x="1127" y="654" width="1" height="5" fill="#c0c0c0"/>
<rect x="1135" y="658" width="1" height="1" fill="#c0c0c0"/>
<rect x="1143" y="658" width="1" height="11" fill="#c0c0c0"/>
<rect x="1151" y="658" width="1" height="24" fill="#c0c0c0"/>
<rect x="1159" y="658" width="1" height="42" fill="#c0c0c0"/>
<rect x="1167" y="658" width="1" height="56" fill="#c0c0c0"/>
<rect x="1175" y="658" width="1" height="66" fill="#c0c0c0"/>
<rect x="1183" y="658" width="1" height="73" fill="#c0c0c0"/>
<rect x="1191" y="658" width="1" height="79" fill="#c0c0c0"/>
<rect x="1199" y="658" width="1" height="86" fill="#c0c0c0"/>
<rect x="1207" y="658" width="1" height="94" fill="#c0c0c0"/>
<rect x="1215" y="658" width="1" height="99" fill="#c0c0c0"/>
<rect x="1223" y="658" width="1" height="100" fill="#c0c0c0"/>
<rect x="1231" y="658" width="1" height="98" fill="#c0c0c0"/>
<rect x="1239" y="658" width="1" height="88" fill="#c0c0c0"/>
<rect x="1247" y="658" width="1" height="81" fill="#c0c0c0"/>
<rect x="1255" y="658" width="1" height="73" fill="#c0c0c0"/>
<rect x="1263" y="658" width="1" height="69" fill="#c0c0c0"/>
<rect x="1271" y="658" width="1" height="64" fill="#c0c0c0"/>
<rect x="1279" y="658" width="1" height="63" fill="#c0c0c0"/>
<rect x="1287" y="658" width="1" height="62" fill="#c0c0c0"/>
<rect x="1295" y="658" width="1" height="62" fill="#c0c0c0"/>
<rect x="1303" y="658" width="1" height="60" fill="#c0c0c0"/>
<rect x="1311" y="658" width="1" height="57" fill="#c0c0c0"/>
<rect x="1319" y="658" width="1" height="57" fill="#c0c0c0"/>
<rect x="1327" y="658" width="1" height="55" fill="#c0c0c0"/>
<rect x="1335" y="658" width="1" height="44" fill="#c0c0c0"/>
<rect x="1343" y="658" width="1" height="35" fill="#c0c0c0"/>
<rect x="1351" y="658" width="1" height="26" fill="#c0c0c0"/>
<rect x="1359" y="658" width="1" height="18" fill="#c0c0c0"/>
<rect x="1367" y="658" width="1" height="12" fill="#c0c0c0"/>
<rect x="1375" y="658" width="1" height="1" fill="#c0c0c0"/>
<path fill="none" stroke="#ff0000" stroke-width="1" d="M288 596.5h3M294 596.5h3M300 596.5h1M247 597.5h2M252 597.5h3M258 597.5h3M264 597.5h3M270 597.5h3M276 597.5h3M282 597.5h3M301 597.5h2M306 597.5h3M312 597.5h3M318 597.5h3M324 597.5h3M330 597.5h3M240 598.5h3M246 598.5h1M336 598.5h3M342 598.5h3M348 598.5h2M234 599.5h3M350 599.5h1M354 599.5h3M228 600.5h3M360 600.5h3M223 601.5h2M222 602.5h1M366 602.5h3M216 603.5h3M372 603.5h1M212 604.5h1M373 604.5h2M210 605.5h2M378 605.5h1M205 606.5h2M379 606.5h2M204 607.5h1M384 607.5h2M198 608.5h3M386 608.5h1M390 609.5h2M589 609.5h2M594 609.5h2M192 610.5h3M392 610.5h1M582 610.5h3M588 610.5h1M596 610.5h1M188 611.5h1M396 611.5h2M576 611.5h3M600 611.5h3M186 612.5h2M398 612.5h1M570 612.5h3M606 612.5h2M182 613.5h1M402 613.5h3M564 613.5h3M608 613.5h1M180 614.5h2M408 614.5h1M560 614.5h1M612 614.5h3M175 615.5h2M409 615.5h2M558 615.5h2M174 616.5h1M414 616.5h3M420 616.5h2M618 616.5h3M170 617.5h1M422 617.5h1M426 617.5h3M432 617.5h3M554 617.5h1M624 617.5h1M168 618.5h2M438 618.5h3M444 618.5h3M450 618.5h3M552 618.5h2M625 618.5h2M456 619.5h3M163 620.5h2M462 620.5h3M547 620.5h2M630 620.5h2M162 621.5h1M468 621.5h3M546 621.5h1M632 621.5h1M158 622.5h1M474 622.5h1M636 622.5h2M156 623.5h2M475 623.5h2M540 623.5h3M638 623.5h1M480 624.5h1M642 624.5h1M151 625.5h2M481 625.5h2M535 625.5h2M643 625.5h2M150 626.5h1M486 626.5h2M534 626.5h1M488 627.5h1M492 627.5h1M530 627.5h1M648 627.5h2M145 628.5h2M493 628.5h2M528 628.5h2M650 628.5h1M144 629.5h1M498 629.5h3M504 629.5h3M522 629.5h3M1014 629.5h3M1020 629.5h3M1026 629.5h3M1032 629.5h3M1038 629.5h3M510 630.5h3M516 630.5h3M654 630.5h2M1008 630.5h3M1044 630.5h3M139 631.5h2M656 631.5h1M1002 631.5h3M1050 631.5h3M138 632.5h1M1056 632.5h3M660 633.5h2M997 633.5h2M1062 633.5h2M133 634.5h2M662 634.5h1M996 634.5h1M1064 634.5h1M1068 634.5h1M132 635.5h1M1069 635.5h2M1074 635.5h1M666 636.5h1M991 636.5h2M1075 636.5h2M1080 636.5h3M127 637.5h2M667 637.5h2M990 637.5h1M1086 637.5h3M126 638.5h1M1092 638.5h3M1098 638.5h3M1104 638.5h2M985 639.5h2M1106 639.5h1M1110 639.5h3M1116 639.5h2M672 640.5h2M984 640.5h1M1118 640.5h1M121 641.5h2M674 641.5h1M1122 641.5h3M120 642.5h1M980 642.5h1M1128 642.5h2M678 643.5h1M978 643.5h2M1130 643.5h1M679 644.5h2M1134 644.5h1M115 645.5h2M1135 645.5h2M114 646.5h1M974 646.5h1M1140 646.5h1M684 647.5h2M972 647.5h2M1141 647.5h2M686 648.5h1M110 649.5h1M1146 649.5h1M109 650.5h1M1147 650.5h1M108 651.5h1M690 651.5h1M968 651.5h1M1148 651.5h1M691 652.5h1M967 652.5h1M692 653.5h1M966 653.5h1M1152 653.5h1M104 654.5h1M1153 654.5h1M103 655.5h1M1154 655.5h1M102 656.5h1M696 656.5h1M962 656.5h1M697 657.5h1M961 657.5h1M1158 657.5h1M98 658.5h1M698 658.5h1M960 658.5h1M1159 658.5h1M97 659.5h1M1160 659.5h1M96 660.5h1M702 661.5h2M704 662.5h1M956 662.5h1M91 663.5h2M955 663.5h1M1164 663.5h1M90 664.5h1M954 664.5h1M1165 664.5h1M0 665.5h2M708 665.5h1M1165 665.5h1M2 666.5h1M85 666.5h2M709 666.5h2M6 667.5h1M84 667.5h1M7 668.5h2M950 668.5h1M79 669.5h2M714 669.5h1M948 669.5h2M1169 669.5h1M12 670.5h3M78 670.5h1M715 670.5h1M1170 670.5h1M74 671.5h1M716 671.5h1M1171 671.5h1M18 672.5h2M72 672.5h2M20 673.5h1M944 673.5h1M24 674.5h1M67 674.5h2M720 674.5h1M943 674.5h1M25 675.5h2M66 675.5h1M721 675.5h1M942 675.5h1M1174 675.5h1M61 676.5h2M722 676.5h1M1175 676.5h1M30 677.5h3M60 677.5h1M1176 677.5h1M36 678.5h2M54 678.5h3M938 678.5h1M38 679.5h1M42 679.5h3M48 679.5h3M937 679.5h1M726 680.5h1M936 680.5h1M727 681.5h1M1179 681.5h1M728 682.5h1M1180 682.5h1M931 683.5h2M1181 683.5h1M930 684.5h1M732 685.5h1M733 686.5h1M734 687.5h1M926 687.5h1M1184 687.5h1M925 688.5h1M1185 688.5h1M924 689.5h1M1186 689.5h1M738 691.5h1M739 692.5h1M1375 692.5h1M740 693.5h1M920 693.5h1M1189 693.5h1M1374 693.5h1M918 694.5h2M1190 694.5h1M1373 694.5h1M1191 695.5h1M744 696.5h1M745 697.5h1M1368 697.5h2M746 698.5h1M914 698.5h1M1367 698.5h1M913 699.5h1M1194 699.5h1M912 700.5h1M1195 700.5h1M750 701.5h1M1196 701.5h1M1362 701.5h2M751 702.5h1M1361 702.5h1M752 703.5h1M908 703.5h1M907 704.5h1M906 705.5h1M1199 705.5h1M1356 705.5h2M756 706.5h1M1200 706.5h1M1355 706.5h1M757 707.5h1M1200 707.5h1M758 708.5h1M902 708.5h1M901 709.5h1M1350 709.5h2M762 710.5h1M900 710.5h1M1349 710.5h1M763 711.5h2M1203 711.5h1M1204 712.5h1M1345 712.5h1M768 713.5h1M896 713.5h1M1205 713.5h1M1343 713.5h2M769 714.5h2M894 714.5h2M1337 715.5h3M774 716.5h1M890 716.5h1M775 717.5h2M888 717.5h2M1208 717.5h1M1332 717.5h2M1208 718.5h1M1331 718.5h1M780 719.5h1M884 719.5h1M1209 719.5h1M1326 719.5h2M781 720.5h2M882 720.5h2M1325 720.5h1M786 721.5h2M1319 721.5h3M788 722.5h1M877 722.5h2M1315 722.5h1M792 723.5h2M876 723.5h1M1212 723.5h1M1313 723.5h2M794 724.5h1M1213 724.5h1M1309 724.5h1M798 725.5h3M871 725.5h2M1214 725.5h1M1307 725.5h2M804 726.5h1M870 726.5h1M805 727.5h2M1301 727.5h3M810 728.5h3M864 728.5h3M816 729.5h1M860 729.5h1M1217 729.5h1M1297 729.5h1M817 730.5h2M858 730.5h2M1218 730.5h1M1295 730.5h2M822 731.5h3M852 731.5h3M1219 731.5h1M828 732.5h1M846 732.5h3M829 733.5h2M834 733.5h3M840 733.5h3M1290 733.5h2M1223 734.5h1M1289 734.5h1M1224 735.5h1M1225 736.5h1M1285 736.5h1M1283 737.5h2M1229 739.5h1M1278 739.5h2M1230 740.5h1M1277 740.5h1M1231 741.5h1M1273 741.5h1M1235 742.5h1M1271 742.5h2M1236 743.5h2M1266 743.5h2M1265 744.5h1M1241 745.5h3M1247 745.5h2M1259 745.5h3M1249 746.5h1M1253 746.5h3"/>
</g>
<text x="3" y="596" font-size="9" fill="#000" textLength="124" lengthAdjust="spacingAndGlyphs">MACD(12,26,9) -6.73 -263.83</text>
<text x="1631" y="594" font-size="9" fill="#000" textLength="28" lengthAdjust="spacingAndGlyphs">576.04</text>
<text x="1631" y="662" font-size="9" fill="#000" textLength="18" lengthAdjust="spacingAndGlyphs">0.00</text>
<text x="1631" y="763" font-size="9" fill="#000" textLength="26" lengthAdjust="spacingAndGlyphs">-847.3</text>
<rect x="1628" y="585" width="1" height="1" fill="#000"/>
<rect x="1628" y="658" width="1" height="1" fill="#000"/>
<rect x="1628" y="759" width="1" height="1" fill="#000"/>
<g shape-rendering="crispEdges">
<line x1="0" y1="801.5" x2="1627" y2="801.5" stroke="#c0c0c0" stroke-width="1" stroke-dasharray="3,3"/>
<line x1="0" y1="848.5" x2="1627" y2="848.5" stroke="#c0c0c0" stroke-width="1" stroke-dasharray="3,3"/>
<line x1="0" y1="904.5" x2="1627" y2="904.5" stroke="#c0c0c0" stroke-width="1" stroke-dasharray="3,3"/>
<path fill="none" stroke="#1e90ff" stroke-width="1" d="M231 814.5h3M534 814.5h3M230 815.5h1M234 815.5h4M530 815.5h4M537 815.5h2M228 816.5h2M238 816.5h2M526 816.5h4M539 816.5h2M227 817.5h1M239 817.5h1M522 817.5h4M541 817.5h2M183 818.5h1M226 818.5h1M240 818.5h1M351 818.5h1M518 818.5h4M543 818.5h1M182 819.5h1M184 819.5h2M214 819.5h6M224 819.5h2M240 819.5h1M292 819.5h5M349 819.5h3M514 819.5h4M544 819.5h1M181 820.5h1M186 820.5h2M212 820.5h2M220 820.5h4M241 820.5h1M286 820.5h6M297 820.5h2M347 820.5h2M352 820.5h1M422 820.5h2M510 820.5h4M544 820.5h1M180 821.5h1M188 821.5h1M209 821.5h3M241 821.5h1M282 821.5h4M299 821.5h2M345 821.5h2M352 821.5h1M418 821.5h4M424 821.5h1M508 821.5h2M545 821.5h1M178 822.5h2M189 822.5h2M206 822.5h3M242 822.5h1M278 822.5h4M301 822.5h2M334 822.5h11M353 822.5h1M415 822.5h3M425 822.5h1M505 822.5h3M545 822.5h1M151 823.5h3M177 823.5h1M191 823.5h5M202 823.5h4M242 823.5h1M274 823.5h4M303 823.5h5M332 823.5h2M353 823.5h1M414 823.5h1M426 823.5h2M503 823.5h2M546 823.5h1M150 824.5h1M154 824.5h4M176 824.5h1M196 824.5h6M242 824.5h1M271 824.5h3M308 824.5h5M329 824.5h3M354 824.5h1M413 824.5h1M428 824.5h1M501 824.5h2M546 824.5h1M967 824.5h10M149 825.5h1M158 825.5h18M243 825.5h1M270 825.5h1M313 825.5h3M326 825.5h3M354 825.5h1M412 825.5h1M429 825.5h1M499 825.5h2M547 825.5h1M582 825.5h2M966 825.5h1M977 825.5h3M148 826.5h1M243 826.5h1M255 826.5h1M269 826.5h1M316 826.5h2M322 826.5h4M355 826.5h1M411 826.5h1M430 826.5h1M497 826.5h2M548 826.5h1M578 826.5h4M584 826.5h1M965 826.5h1M980 826.5h2M119 827.5h1M147 827.5h1M244 827.5h1M254 827.5h1M256 827.5h2M268 827.5h1M318 827.5h4M355 827.5h1M410 827.5h1M431 827.5h1M495 827.5h2M548 827.5h1M575 827.5h3M585 827.5h1M964 827.5h1M982 827.5h3M117 828.5h2M120 828.5h1M147 828.5h1M244 828.5h1M253 828.5h1M258 828.5h1M267 828.5h1M356 828.5h1M409 828.5h1M432 828.5h1M494 828.5h1M549 828.5h1M559 828.5h1M574 828.5h1M585 828.5h1M911 828.5h3M963 828.5h1M985 828.5h3M1375 828.5h1M115 829.5h2M121 829.5h1M146 829.5h1M244 829.5h1M252 829.5h1M259 829.5h1M266 829.5h1M356 829.5h1M408 829.5h1M433 829.5h1M493 829.5h1M549 829.5h1M557 829.5h2M560 829.5h2M573 829.5h1M586 829.5h1M910 829.5h1M914 829.5h4M962 829.5h1M988 829.5h2M1374 829.5h1M113 830.5h2M122 830.5h1M145 830.5h1M245 830.5h1M251 830.5h1M260 830.5h2M265 830.5h1M357 830.5h1M406 830.5h2M434 830.5h2M493 830.5h1M550 830.5h1M555 830.5h2M562 830.5h1M572 830.5h1M587 830.5h1M909 830.5h1M918 830.5h10M951 830.5h3M961 830.5h1M990 830.5h2M1373 830.5h1M111 831.5h2M123 831.5h1M144 831.5h1M245 831.5h1M251 831.5h1M262 831.5h1M264 831.5h1M357 831.5h1M404 831.5h2M436 831.5h1M492 831.5h1M550 831.5h1M553 831.5h2M563 831.5h1M570 831.5h2M588 831.5h1M908 831.5h1M928 831.5h1M950 831.5h1M954 831.5h4M960 831.5h1M992 831.5h1M1373 831.5h1M94 832.5h3M109 832.5h2M124 832.5h1M142 832.5h2M246 832.5h1M250 832.5h1M263 832.5h1M358 832.5h1M383 832.5h2M401 832.5h3M437 832.5h1M491 832.5h1M551 832.5h2M564 832.5h2M569 832.5h1M589 832.5h1M906 832.5h2M929 832.5h1M949 832.5h1M958 832.5h2M992 832.5h1M1372 832.5h1M71 833.5h1M90 833.5h4M97 833.5h3M107 833.5h2M125 833.5h1M140 833.5h2M246 833.5h1M249 833.5h1M358 833.5h1M382 833.5h1M385 833.5h3M398 833.5h3M438 833.5h1M490 833.5h1M566 833.5h1M568 833.5h1M589 833.5h1M598 833.5h2M905 833.5h1M930 833.5h1M949 833.5h1M993 833.5h1M1371 833.5h1M69 834.5h2M72 834.5h1M87 834.5h3M100 834.5h2M105 834.5h2M126 834.5h1M137 834.5h3M247 834.5h2M359 834.5h1M381 834.5h1M388 834.5h2M394 834.5h4M439 834.5h3M489 834.5h1M567 834.5h1M590 834.5h1M594 834.5h4M600 834.5h1M904 834.5h1M931 834.5h1M948 834.5h1M993 834.5h1M1071 834.5h1M1370 834.5h1M67 835.5h2M73 835.5h1M86 835.5h1M102 835.5h3M127 835.5h10M247 835.5h1M360 835.5h1M381 835.5h1M390 835.5h4M442 835.5h4M489 835.5h1M591 835.5h3M601 835.5h1M903 835.5h1M932 835.5h1M947 835.5h1M994 835.5h1M1070 835.5h1M1072 835.5h1M1369 835.5h1M55 836.5h5M65 836.5h2M74 836.5h1M85 836.5h1M360 836.5h1M380 836.5h1M446 836.5h2M488 836.5h1M602 836.5h1M903 836.5h1M933 836.5h1M946 836.5h1M995 836.5h1M1047 836.5h5M1069 836.5h1M1072 836.5h1M1369 836.5h1M54 837.5h1M60 837.5h5M75 837.5h1M84 837.5h1M361 837.5h1M379 837.5h1M447 837.5h1M487 837.5h1M603 837.5h1M902 837.5h1M934 837.5h1M945 837.5h1M995 837.5h1M1045 837.5h2M1052 837.5h4M1069 837.5h1M1073 837.5h1M1368 837.5h1M54 838.5h1M75 838.5h1M83 838.5h1M361 838.5h1M378 838.5h1M448 838.5h1M486 838.5h1M604 838.5h1M902 838.5h1M935 838.5h3M945 838.5h1M996 838.5h1M1043 838.5h2M1056 838.5h1M1068 838.5h1M1073 838.5h1M1356 838.5h12M53 839.5h1M76 839.5h1M82 839.5h1M362 839.5h1M377 839.5h1M448 839.5h1M485 839.5h1M605 839.5h1M901 839.5h1M938 839.5h4M944 839.5h1M997 839.5h1M1030 839.5h6M1041 839.5h2M1057 839.5h1M1067 839.5h1M1074 839.5h1M1351 839.5h5M52 840.5h1M77 840.5h1M81 840.5h1M362 840.5h1M377 840.5h1M449 840.5h1M484 840.5h1M606 840.5h1M655 840.5h1M901 840.5h1M942 840.5h2M997 840.5h1M1028 840.5h2M1036 840.5h5M1058 840.5h2M1066 840.5h1M1075 840.5h1M1349 840.5h2M51 841.5h1M78 841.5h1M80 841.5h1M363 841.5h1M376 841.5h1M449 841.5h1M483 841.5h1M607 841.5h1M653 841.5h3M900 841.5h1M998 841.5h1M1025 841.5h3M1060 841.5h1M1065 841.5h1M1075 841.5h1M1102 841.5h2M1347 841.5h2M51 842.5h1M79 842.5h1M363 842.5h1M375 842.5h1M450 842.5h1M483 842.5h1M608 842.5h1M652 842.5h1M656 842.5h1M900 842.5h1M998 842.5h1M1023 842.5h2M1061 842.5h1M1065 842.5h1M1076 842.5h1M1098 842.5h4M1104 842.5h1M1335 842.5h5M1345 842.5h2M50 843.5h1M364 843.5h1M374 843.5h1M450 843.5h1M482 843.5h1M609 843.5h1M650 843.5h2M656 843.5h1M899 843.5h1M999 843.5h1M1021 843.5h2M1062 843.5h1M1064 843.5h1M1077 843.5h1M1094 843.5h4M1105 843.5h1M1335 843.5h1M1340 843.5h5M49 844.5h1M364 844.5h1M373 844.5h1M451 844.5h1M481 844.5h1M610 844.5h1M648 844.5h2M656 844.5h1M899 844.5h1M1000 844.5h1M1020 844.5h1M1063 844.5h1M1077 844.5h1M1090 844.5h4M1106 844.5h1M1335 844.5h1M48 845.5h1M365 845.5h1M372 845.5h1M451 845.5h1M480 845.5h1M611 845.5h1M631 845.5h1M647 845.5h1M657 845.5h1M898 845.5h1M1001 845.5h1M1018 845.5h2M1078 845.5h1M1086 845.5h4M1107 845.5h1M1334 845.5h1M48 846.5h1M365 846.5h1M370 846.5h2M452 846.5h1M478 846.5h2M611 846.5h1M630 846.5h1M632 846.5h2M646 846.5h1M657 846.5h1M898 846.5h1M1002 846.5h2M1016 846.5h2M1078 846.5h1M1082 846.5h4M1107 846.5h1M1334 846.5h1M39 847.5h9M366 847.5h1M369 847.5h1M452 847.5h1M474 847.5h4M612 847.5h1M629 847.5h1M634 847.5h1M644 847.5h2M657 847.5h1M897 847.5h1M1004 847.5h1M1014 847.5h2M1079 847.5h3M1108 847.5h1M1334 847.5h1M38 848.5h1M366 848.5h1M368 848.5h1M453 848.5h1M471 848.5h3M613 848.5h1M629 848.5h1M635 848.5h1M643 848.5h1M658 848.5h1M855 848.5h1M897 848.5h1M1005 848.5h1M1012 848.5h2M1109 848.5h1M1334 848.5h1M36 849.5h2M367 849.5h1M453 849.5h1M469 849.5h2M614 849.5h1M628 849.5h1M636 849.5h2M642 849.5h1M658 849.5h1M854 849.5h1M856 849.5h1M896 849.5h1M1006 849.5h1M1009 849.5h3M1110 849.5h1M1333 849.5h1M7 850.5h1M35 850.5h1M454 850.5h1M468 850.5h1M615 850.5h1M627 850.5h1M638 850.5h1M640 850.5h2M658 850.5h1M853 850.5h1M856 850.5h1M896 850.5h1M1007 850.5h2M1111 850.5h1M1333 850.5h1M6 851.5h2M34 851.5h1M454 851.5h1M466 851.5h2M616 851.5h2M626 851.5h1M639 851.5h1M659 851.5h1M852 851.5h1M857 851.5h1M895 851.5h1M1112 851.5h1M1333 851.5h1M5 852.5h1M8 852.5h1M32 852.5h2M455 852.5h1M464 852.5h2M618 852.5h2M625 852.5h1M659 852.5h1M850 852.5h2M857 852.5h1M895 852.5h1M1113 852.5h1M1333 852.5h1M4 853.5h1M8 853.5h1M31 853.5h1M455 853.5h9M620 853.5h1M625 853.5h1M660 853.5h1M849 853.5h1M858 853.5h1M894 853.5h1M1114 853.5h2M1332 853.5h1M3 854.5h1M9 854.5h1M30 854.5h1M621 854.5h2M624 854.5h1M660 854.5h1M848 854.5h1M858 854.5h1M893 854.5h1M1116 854.5h1M1332 854.5h1M2 855.5h1M9 855.5h1M30 855.5h1M623 855.5h1M660 855.5h1M847 855.5h1M859 855.5h1M892 855.5h1M1117 855.5h1M1332 855.5h1M1 856.5h1M10 856.5h1M29 856.5h1M661 856.5h1M847 856.5h1M860 856.5h1M891 856.5h1M1118 856.5h1M1124 856.5h4M1332 856.5h1M0 857.5h1M10 857.5h1M28 857.5h1M661 857.5h1M846 857.5h1M860 857.5h1M890 857.5h1M1119 857.5h5M1128 857.5h1M1331 857.5h1M11 858.5h1M28 858.5h1M661 858.5h1M846 858.5h1M861 858.5h1M889 858.5h1M1128 858.5h1M1331 858.5h1M11 859.5h1M27 859.5h1M662 859.5h1M846 859.5h1M861 859.5h1M888 859.5h1M1129 859.5h1M1331 859.5h1M11 860.5h1M26 860.5h1M662 860.5h1M670 860.5h2M845 860.5h1M862 860.5h1M886 860.5h2M1130 860.5h1M1331 860.5h1M12 861.5h1M26 861.5h1M662 861.5h1M668 861.5h2M672 861.5h2M845 861.5h1M862 861.5h1M868 861.5h6M884 861.5h2M1131 861.5h1M1330 861.5h1M12 862.5h1M25 862.5h1M663 862.5h1M665 862.5h3M674 862.5h2M844 862.5h1M863 862.5h5M874 862.5h4M881 862.5h3M1131 862.5h1M1254 862.5h2M1330 862.5h1M13 863.5h1M24 863.5h1M663 863.5h2M676 863.5h1M844 863.5h1M878 863.5h3M1132 863.5h1M1250 863.5h4M1256 863.5h2M1330 863.5h1M13 864.5h1M24 864.5h1M677 864.5h2M844 864.5h1M1133 864.5h1M1239 864.5h11M1258 864.5h1M1271 864.5h1M1330 864.5h1M14 865.5h1M22 865.5h2M679 865.5h1M843 865.5h1M1134 865.5h1M1239 865.5h1M1259 865.5h1M1269 865.5h2M1272 865.5h1M1329 865.5h1M14 866.5h1M20 866.5h2M680 866.5h1M843 866.5h1M1134 866.5h1M1238 866.5h1M1260 866.5h2M1267 866.5h2M1273 866.5h1M1329 866.5h1M15 867.5h1M17 867.5h3M680 867.5h1M843 867.5h1M1135 867.5h1M1238 867.5h1M1262 867.5h1M1265 867.5h2M1274 867.5h1M1329 867.5h1M15 868.5h2M681 868.5h1M842 868.5h1M1136 868.5h1M1237 868.5h1M1263 868.5h2M1275 868.5h1M1329 868.5h1M681 869.5h1M842 869.5h1M1137 869.5h1M1237 869.5h1M1276 869.5h1M1328 869.5h1M682 870.5h1M695 870.5h1M718 870.5h2M842 870.5h1M1138 870.5h2M1236 870.5h1M1277 870.5h1M1303 870.5h5M1328 870.5h1M682 871.5h1M694 871.5h1M696 871.5h1M714 871.5h4M720 871.5h2M841 871.5h1M1140 871.5h1M1236 871.5h1M1278 871.5h1M1301 871.5h2M1308 871.5h6M1328 871.5h1M683 872.5h1M693 872.5h1M697 872.5h1M711 872.5h3M722 872.5h1M841 872.5h1M1141 872.5h1M1235 872.5h1M1279 872.5h10M1300 872.5h1M1314 872.5h4M1328 872.5h1M684 873.5h1M692 873.5h1M698 873.5h2M709 873.5h2M723 873.5h1M840 873.5h1M1142 873.5h1M1235 873.5h1M1289 873.5h3M1298 873.5h2M1318 873.5h4M1327 873.5h1M684 874.5h1M691 874.5h1M700 874.5h1M708 874.5h1M724 874.5h2M840 874.5h1M1143 874.5h1M1234 874.5h1M1292 874.5h2M1296 874.5h2M1322 874.5h4M1327 874.5h1M685 875.5h1M691 875.5h1M701 875.5h1M706 875.5h2M726 875.5h1M840 875.5h1M1144 875.5h1M1234 875.5h1M1294 875.5h2M1326 875.5h2M685 876.5h1M690 876.5h1M702 876.5h1M704 876.5h2M727 876.5h5M839 876.5h1M1145 876.5h1M1233 876.5h1M686 877.5h1M689 877.5h1M703 877.5h1M732 877.5h6M750 877.5h2M838 877.5h2M1145 877.5h1M1233 877.5h1M686 878.5h1M688 878.5h1M738 878.5h4M746 878.5h4M752 878.5h2M782 878.5h3M834 878.5h4M1146 878.5h1M1232 878.5h1M687 879.5h1M742 879.5h4M754 879.5h1M780 879.5h2M785 879.5h2M831 879.5h3M1147 879.5h1M1232 879.5h1M755 880.5h1M766 880.5h6M777 880.5h3M787 880.5h2M830 880.5h1M1148 880.5h1M1231 880.5h1M756 881.5h2M764 881.5h2M772 881.5h5M789 881.5h2M829 881.5h1M1149 881.5h1M1231 881.5h1M758 882.5h1M761 882.5h3M791 882.5h3M829 882.5h1M1149 882.5h1M1230 882.5h1M759 883.5h2M794 883.5h4M828 883.5h1M1150 883.5h1M1229 883.5h1M798 884.5h4M827 884.5h1M1151 884.5h1M1228 884.5h1M802 885.5h4M826 885.5h1M1152 885.5h1M1227 885.5h1M806 886.5h11M825 886.5h1M1153 886.5h1M1227 886.5h1M817 887.5h3M825 887.5h1M1154 887.5h1M1226 887.5h1M820 888.5h2M824 888.5h1M1155 888.5h1M1225 888.5h1M822 889.5h2M1155 889.5h1M1224 889.5h1M1156 890.5h1M1223 890.5h1M1157 891.5h1M1182 891.5h4M1222 891.5h1M1158 892.5h1M1178 892.5h4M1186 892.5h4M1221 892.5h1M1159 893.5h19M1190 893.5h3M1220 893.5h1M1193 894.5h3M1219 894.5h1M1196 895.5h2M1219 895.5h1M1198 896.5h3M1218 896.5h1M1201 897.5h3M1217 897.5h1M1204 898.5h2M1216 898.5h1M1206 899.5h10"/>
</g>
<text x="3" y="781" font-size="9" fill="#000" textLength="68" lengthAdjust="spacingAndGlyphs">RSI(14) 63.6521</text>
<text x="1631" y="779" font-size="9" fill="#000" textLength="15" lengthAdjust="spacingAndGlyphs">100</text>
<text x="1631" y="805" font-size="9" fill="#000" textLength="10" lengthAdjust="spacingAndGlyphs">80</text>
<text x="1631" y="852" font-size="9" fill="#000" textLength="10" lengthAdjust="spacingAndGlyphs">50</text>
<text x="1631" y="908" font-size="9" fill="#000" textLength="10" lengthAdjust="spacingAndGlyphs">15</text>
<text x="1631" y="925" font-size="9" fill="#000" textLength="5" lengthAdjust="spacingAndGlyphs">0</text>
<rect x="1628" y="775" width="1" height="1" fill="#000"/>
<rect x="1628" y="801" width="1" height="1" fill="#000"/>
<rect x="1628" y="848" width="1" height="1" fill="#000"/>
<rect x="1628" y="904" width="1" height="1" fill="#000"/>
<rect x="1628" y="927" width="1" height="1" fill="#000"/>
<rect x="-1" y="929" width="1" height="3" fill="#000"/>
<text x="-1.5" y="941" font-size="9" fill="#000" textLength="51.3" lengthAdjust="spacingAndGlyphs">28 Dec 2018</text>
<rect x="63" y="929" width="1" height="3" fill="#000"/>
<text x="62.5" y="941" font-size="9" fill="#000" textLength="49.7" lengthAdjust="spacingAndGlyphs">10 Jan 2019</text>
<rect x="127" y="929" width="1" height="3" fill="#000"/>
<text x="126.5" y="941" font-size="9" fill="#000" textLength="49.7" lengthAdjust="spacingAndGlyphs">22 Jan 2019</text>
<rect x="191" y="929" width="1" height="3" fill="#000"/>
<text x="190.5" y="941" font-size="9" fill="#000" textLength="45.6" lengthAdjust="spacingAndGlyphs">1 Feb 2019</text>
<rect x="255" y="929" width="1" height="3" fill="#000"/>
<text x="254.5" y="941" font-size="9" fill="#000" textLength="50.6" lengthAdjust="spacingAndGlyphs">18 Feb 2019</text>
<rect x="319" y="929" width="1" height="3" fill="#000"/>
<text x="318.5" y="941" font-size="9" fill="#000" textLength="50.6" lengthAdjust="spacingAndGlyphs">28 Feb 2019</text>
<rect x="383" y="929" width="1" height="3" fill="#000"/>
<text x="382.5" y="941" font-size="9" fill="#000" textLength="51.1" lengthAdjust="spacingAndGlyphs">12 Mar 2019</text>
<rect x="447" y="929" width="1" height="3" fill="#000"/>
<text x="446.5" y="941" font-size="9" fill="#000" textLength="51.1" lengthAdjust="spacingAndGlyphs">22 Mar 2019</text>
<rect x="511" y="929" width="1" height="3" fill="#000"/>
<text x="510.5" y="941" font-size="9" fill="#000" textLength="44.8" lengthAdjust="spacingAndGlyphs">3 Apr 2019</text>
<rect x="575" y="929" width="1" height="3" fill="#000"/>
<text x="574.5" y="941" font-size="9" fill="#000" textLength="49.8" lengthAdjust="spacingAndGlyphs">16 Apr 2019</text>
<rect x="639" y="929" width="1" height="3" fill="#000"/>
<text x="638.5" y="941" font-size="9" fill="#000" textLength="49.8" lengthAdjust="spacingAndGlyphs">30 Apr 2019</text>
<rect x="703" y="929" width="1" height="3" fill="#000"/>
<text x="702.5" y="941" font-size="9" fill="#000" textLength="52.4" lengthAdjust="spacingAndGlyphs">14 May 2019</text>
<rect x="767" y="929" width="1" height="3" fill="#000"/>
<text x="766.5" y="941" font-size="9" fill="#000" textLength="52.4" lengthAdjust="spacingAndGlyphs">24 May 2019</text>
<rect x="831" y="929" width="1" height="3" fill="#000"/>
<text x="830.5" y="941" font-size="9" fill="#000" textLength="45.0" lengthAdjust="spacingAndGlyphs">5 Jun 2019</text>
<rect x="895" y="929" width="1" height="3" fill="#000"/>
<text x="894.5" y="941" font-size="9" fill="#000" textLength="50.0" lengthAdjust="spacingAndGlyphs">18 Jun 2019</text>
<rect x="959" y="929" width="1" height="3" fill="#000"/>
<text x="958.5" y="941" font-size="9" fill="#000" textLength="50.0" lengthAdjust="spacingAndGlyphs">28 Jun 2019</text>
<rect x="1023" y="929" width="1" height="3" fill="#000"/>
<text x="1022.5" y="941" font-size="9" fill="#000" textLength="47.0" lengthAdjust="spacingAndGlyphs">11 Jul 2019</text>
<rect x="1087" y="929" width="1" height="3" fill="#000"/>
<text x="1086.5" y="941" font-size="9" fill="#000" textLength="47.0" lengthAdjust="spacingAndGlyphs">23 Jul 2019</text>
<rect x="1151" y="929" width="1" height="3" fill="#000"/>
<text x="1150.5" y="941" font-size="9" fill="#000" textLength="46.6" lengthAdjust="spacingAndGlyphs">2 Aug 2019</text>
<rect x="1215" y="929" width="1" height="3" fill="#000"/>
<text x="1214.5" y="941" font-size="9" fill="#000" textLength="51.6" lengthAdjust="spacingAndGlyphs">14 Aug 2019</text>
<rect x="1279" y="929" width="1" height="3" fill="#000"/>
<text x="1278.5" y="941" font-size="9" fill="#000" textLength="51.6" lengthAdjust="spacingAndGlyphs">26 Aug 2019</text>
<rect x="1343" y="929" width="1" height="3" fill="#000"/>
<text x="1342.5" y="941" font-size="9" fill="#000" textLength="45.9" lengthAdjust="spacingAndGlyphs">5 Sep 2019</text>
<rect x="0" y="948" width="1673" height="1" fill="#f6f6f6"/>
<rect x="0" y="949" width="1673" height="1" fill="#e2e2e2"/>
<polygon points="2,39 9,39 5.5,35" fill="#000"/>
<text x="14" y="39.6" font-size="9" fill="#000" textLength="51" lengthAdjust="spacingAndGlyphs">HK50-,Daily</text>
<text x="71" y="39.6" font-size="9" fill="#000" textLength="141" lengthAdjust="spacingAndGlyphs">26785.0 27152.5 26671.0 27103.0</text>
<rect x="0" y="0" width="1673" height="23" fill="#f0f0f0"/>
<rect x="0" y="23" width="1673" height="1" fill="#f6f6f6"/>
<rect x="0" y="24" width="1673" height="1" fill="#a0a0a0"/>
<rect x="0" y="25" width="1673" height="1" fill="#696969"/>
<rect x="0" y="26" width="1673" height="2" fill="#ffffff"/>
<path d="M-2 4.8H6.5L9.6 8V17H-2Z" fill="#fdfdfd" stroke="#9a9a9a" stroke-width="1"/>
<path d="M6.5 4.8V8H9.6" fill="#e8e8e8" stroke="#9a9a9a" stroke-width="0.8"/>
<rect x="0" y="6.3" width="2.6" height="1.3" fill="#7a7a7a"/><rect x="0" y="9.4" width="4.5" height="1" fill="#b4b4b4"/><rect x="0" y="11.8" width="5" height="1" fill="#b4b4b4"/>
<path d="M6.2 10.5H10V14.4H13.9V17.8H10V21.8H6.2V17.8H2.2V14.4H6.2Z" fill="#22d822" stroke="#0c8c0c" stroke-width="0.9"/>
<path d="M7.3 11.6H8.9V15.5H12.8V16.7H8.9V20.7H7.3V16.7H3.3V15.5H7.3Z" fill="#5cf45c"/>
<text x="16.6" y="14.7" font-size="12.3" fill="#000" textLength="36.4">新订单</text>
<path d="M71.4 4.8L80.9 12.8L73 19.6L65.2 13.4Z" fill="url(#gGold)"/>
<path d="M65.2 13.4L73 19.6L80.9 12.8" fill="none" stroke="#a8700c" stroke-width="1.8" stroke-linejoin="round"/>
<path d="M65.2 13.4L71.4 4.8L80.9 12.8" fill="none" stroke="#c89a28" stroke-width="0.9"/>
<path d="M70.5 8.5L76 13.2" stroke="#fff0a0" stroke-width="1.2" opacity="0.7"/>
<path d="M95 5L98.2 4.3H106.4V13.2H98.2L95 12Z" fill="#1e8cf6"/>
<path d="M95 5L98.2 6V13.2L95 12Z" fill="#7fd0ff"/>
<path d="M95 5L98.2 4.3H106.4L103.5 6H98.2Z" fill="#58b8ff"/>
<rect x="100" y="8" width="4.6" height="2" fill="#d8f0ff"/>
<path d="M96.2 19.6C92.8 19.6 92.6 15.6 95.8 15.4C96.2 12.6 100.4 11.6 102.2 14C104.6 12.4 108.2 14 107.6 16.4C109.6 16.8 109.4 19.6 107.2 19.6Z" fill="#eef1f7" stroke="#5a6a9e" stroke-width="0.9"/>
<path d="M95 18.6H108" stroke="#c4cbdc" stroke-width="1"/>
<circle cx="129" cy="11.8" r="7.6" fill="#e4efe4" stroke="#a8c2ea" stroke-width="1"/>
<path d="M129 11.8V19.6A7.8 7.8 0 0 0 136.6 10Z" fill="#58b058" opacity="0.85"/>
<circle cx="129" cy="11.8" r="5.4" fill="none" stroke="#7fa2e4" stroke-width="1.1"/>
<circle cx="129" cy="11.8" r="3.1" fill="none" stroke="#5d86dc" stroke-width="1.1"/>
<rect x="128.6" y="11.8" width="1.2" height="7.8" fill="#18a018"/>
<circle cx="128.6" cy="11.6" r="1.7" fill="#2a5fd0"/>
<path d="M148.6 10.8H164L157.6 19.8L155.4 19.2Z" fill="#f7dc58" stroke="#d0a41c" stroke-width="0.9"/>
<ellipse cx="156.2" cy="8.9" rx="7.8" ry="2.9" fill="#4fa2dc" stroke="#2c7ab8" stroke-width="0.8"/>
<ellipse cx="156.1" cy="6.6" rx="3.9" ry="2.5" fill="#6cb6ea" stroke="#2c7ab8" stroke-width="0.8"/>
<circle cx="160.6" cy="15.6" r="4.3" fill="#e02a10"/>
<rect x="159.1" y="14.1" width="3" height="3" fill="#fff"/>
<text x="169.6" y="15.4" font-size="12.3" fill="#000" textLength="46.5">自动交易</text>
<rect x="224" y="2" width="1" height="20" fill="#a0a0a0"/>
<rect x="225" y="2" width="1" height="20" fill="#ffffff"/>
<rect x="228" y="3" width="3" height="1" fill="#a8a8a8"/>
<rect x="228" y="5" width="3" height="1" fill="#a8a8a8"/>
<rect x="228" y="7" width="3" height="1" fill="#a8a8a8"/>
<rect x="228" y="9" width="3" height="1" fill="#a8a8a8"/>
<rect x="228" y="11" width="3" height="1" fill="#a8a8a8"/>
<rect x="228" y="13" width="3" height="1" fill="#a8a8a8"/>
<rect x="228" y="15" width="3" height="1" fill="#a8a8a8"/>
<rect x="228" y="17" width="3" height="1" fill="#a8a8a8"/>
<rect x="228" y="19" width="3" height="1" fill="#a8a8a8"/>
<g stroke="#505050" stroke-width="1" fill="none" stroke-linecap="square"><path d="M243.5 6.5V19.5M240.5 17.5H253"/><path d="M242 8L243.5 6.3L245 8M251.5 16L253.3 17.5L251.5 19"/></g>
<path d="M249.5 8.5V15.5M249.5 8.5H251.5M247 15.5H249.5" stroke="#18a018" stroke-width="1.4" fill="none"/>
<rect x="262" y="0" width="25" height="22" fill="#f9f9f9"/>
<rect x="262" y="0" width="25" height="1" fill="#a0a0a0"/>
<rect x="262" y="0" width="1" height="22" fill="#a0a0a0"/>
<rect x="286" y="1" width="1" height="21" fill="#ffffff"/>
<rect x="262" y="21" width="25" height="1" fill="#ffffff"/>
<g stroke="#505050" stroke-width="1" fill="none" stroke-linecap="square"><path d="M271.5 6.5V19.5M268.5 17.5H281"/><path d="M270 8L271.5 6.3L273 8M279.5 16L281.3 17.5L279.5 19"/></g>
<rect x="276.5" y="4" width="1" height="12" fill="#0a8a0a"/><rect x="274.5" y="6.5" width="5" height="7" fill="#22c022" stroke="#0a8a0a" stroke-width="1"/>
<g stroke="#505050" stroke-width="1" fill="none" stroke-linecap="square"><path d="M299.5 6.5V19.5M296.5 17.5H309"/><path d="M298 8L299.5 6.3L301 8M307.5 16L309.3 17.5L307.5 19"/></g>
<path d="M297 15C300 10 302 8 304 9.5S307 12 309 13" fill="none" stroke="#18a018" stroke-width="1.1"/>
<rect x="319" y="2" width="1" height="20" fill="#a0a0a0"/>
<rect x="320" y="2" width="1" height="20" fill="#ffffff"/>
<path d="M337.5 13.5L343 19" stroke="#c8a020" stroke-width="3" stroke-linecap="round"/>
<path d="M337.5 13.5L343 19" stroke="#f0d860" stroke-width="1.2" stroke-linecap="round"/>
<circle cx="334" cy="10" r="5.3" fill="url(#gLens)" stroke="#3f7fd0" stroke-width="1.3"/>
<rect x="331" y="9.2" width="6" height="1.7" fill="#2f6fc8"/>
<rect x="333.15" y="7" width="1.7" height="6" fill="#2f6fc8"/>
<path d="M365.5 13.5L371 19" stroke="#c8a020" stroke-width="3" stroke-linecap="round"/>
<path d="M365.5 13.5L371 19" stroke="#f0d860" stroke-width="1.2" stroke-linecap="round"/>
<circle cx="362" cy="10" r="5.3" fill="url(#gLens)" stroke="#3f7fd0" stroke-width="1.3"/>
<rect x="359" y="9.2" width="6" height="1.7" fill="#2f6fc8"/>
<rect x="384" y="4" width="7.8" height="7.6" fill="#3aa020"/>
<rect x="385.2" y="6.8" width="5.4" height="3.6" fill="#eef4ff"/>
<rect x="386.2" y="8.3" width="3.4" height="0.9" fill="#3aa020" opacity="0.6"/>
<rect x="392.5" y="4" width="7.8" height="7.6" fill="#2a5fd8"/>
<rect x="393.7" y="6.8" width="5.4" height="3.6" fill="#eef4ff"/>
<rect x="394.7" y="8.3" width="3.4" height="0.9" fill="#2a5fd8" opacity="0.6"/>
<rect x="384" y="12.3" width="7.8" height="7.6" fill="#2a5fd8"/>
<rect x="385.2" y="15.100000000000001" width="5.4" height="3.6" fill="#eef4ff"/>
<rect x="386.2" y="16.6" width="3.4" height="0.9" fill="#2a5fd8" opacity="0.6"/>
<rect x="392.5" y="12.3" width="7.8" height="7.6" fill="#3aa020"/>
<rect x="393.7" y="15.100000000000001" width="5.4" height="3.6" fill="#eef4ff"/>
<rect x="394.7" y="16.6" width="3.4" height="0.9" fill="#3aa020" opacity="0.6"/>
<rect x="409" y="2" width="1" height="20" fill="#a0a0a0"/>
<rect x="410" y="2" width="1" height="20" fill="#ffffff"/>
<rect x="414" y="0" width="25" height="22" fill="#f9f9f9"/>
<rect x="414" y="0" width="25" height="1" fill="#a0a0a0"/>
<rect x="414" y="0" width="1" height="22" fill="#a0a0a0"/>
<rect x="438" y="1" width="1" height="21" fill="#ffffff"/>
<rect x="414" y="21" width="25" height="1" fill="#ffffff"/>
<g stroke="#505050" stroke-width="1" fill="none" stroke-linecap="square"><path d="M423.5 6.5V19.5M420.5 17.5H433"/><path d="M422 8L423.5 6.3L425 8M431.5 16L433.3 17.5L431.5 19"/></g>
<polygon points="427.5,8 427.5,15 432,11.5" fill="#30c030" stroke="#109010" stroke-width="0.8"/>
<rect x="442" y="0" width="25" height="22" fill="#f9f9f9"/>
<rect x="442" y="0" width="25" height="1" fill="#a0a0a0"/>
<rect x="442" y="0" width="1" height="22" fill="#a0a0a0"/>
<rect x="466" y="1" width="1" height="21" fill="#ffffff"/>
<rect x="442" y="21" width="25" height="1" fill="#ffffff"/>
<g stroke="#505050" stroke-width="1" fill="none" stroke-linecap="square"><path d="M451.5 6.5V19.5M448.5 17.5H461"/><path d="M450 8L451.5 6.3L453 8M459.5 16L461.3 17.5L459.5 19"/></g>
<rect x="456" y="6" width="1.2" height="10" fill="#2070c0"/>
<path d="M462 11.5H458M459.8 9.3L457.6 11.5L459.8 13.7" stroke="#d04010" stroke-width="1.2" fill="none"/>
<rect x="471" y="2" width="1" height="20" fill="#a0a0a0"/>
<rect x="472" y="2" width="1" height="20" fill="#ffffff"/>
<path d="M481.5 4.5H489L492.5 8V17.5H481.5Z" fill="#fdfdfd" stroke="#8a8a8a" stroke-width="1"/>
<path d="M484 7.5H487M484 7.5V14.5" stroke="#909090" stroke-width="1" fill="none"/>
<path d="M488.5 10.5H492V14H496.5V17.5H492V21.5H488.5V17.5H484.5V14H488.5Z" fill="url(#gGreen)" stroke="#0b8a0b" stroke-width="0.8"/>
<polygon points="502.5,11 508.5,11 505.5,14.5" fill="#000"/>
<circle cx="527" cy="12" r="7.6" fill="url(#gBlueBall)" stroke="#0a48b0" stroke-width="0.8"/>
<circle cx="527" cy="12" r="5.2" fill="#f4f8ff"/>
<path d="M527 8.2V12.2H530" stroke="#404040" stroke-width="1.1" fill="none"/>
<polygon points="541.5,11 547.5,11 544.5,14.5" fill="#000"/>
<rect x="558.5" y="5.5" width="15" height="13" fill="#f8fbff" stroke="#3a70c8" stroke-width="1"/>
<rect x="558.5" y="5.5" width="15" height="2" fill="#5a90e0"/>
<rect x="559" y="12.5" width="14" height="1" fill="#3a70c8"/>
<path d="M560.5 11L563 9.8L565 10.2L567 9L569 9.6L571.5 8.8" stroke="#b03010" stroke-width="1.2" fill="none"/>
<path d="M560.5 16.5L563 15.5L565 16.2L567.5 14.5L569.5 16L571.5 15.5" stroke="#18a018" stroke-width="1.2" fill="none"/>
<polygon points="580.5,11 586.5,11 583.5,14.5" fill="#000"/>
<rect x="592" y="2" width="1" height="20" fill="#a0a0a0"/>
<rect x="593" y="2" width="1" height="20" fill="#ffffff"/>
<rect x="596" y="3" width="3" height="1" fill="#a8a8a8"/>
<rect x="596" y="5" width="3" height="1" fill="#a8a8a8"/>
<rect x="596" y="7" width="3" height="1" fill="#a8a8a8"/>
<rect x="596" y="9" width="3" height="1" fill="#a8a8a8"/>
<rect x="596" y="11" width="3" height="1" fill="#a8a8a8"/>
<rect x="596" y="13" width="3" height="1" fill="#a8a8a8"/>
<rect x="596" y="15" width="3" height="1" fill="#a8a8a8"/>
<rect x="596" y="17" width="3" height="1" fill="#a8a8a8"/>
<rect x="596" y="19" width="3" height="1" fill="#a8a8a8"/>
<rect x="602" y="0" width="25" height="22" fill="#f9f9f9"/>
<rect x="602" y="0" width="25" height="1" fill="#a0a0a0"/>
<rect x="602" y="0" width="1" height="22" fill="#a0a0a0"/>
<rect x="626" y="1" width="1" height="21" fill="#ffffff"/>
<rect x="602" y="21" width="25" height="1" fill="#ffffff"/>
<path d="M610 5V17.5L612.8 14.8L615.2 19.5L617 18.6L614.8 14.2H618.5Z" fill="#4a4a4a"/>
<path d="M642.5 5V20M635 12.5H650" stroke="#505050" stroke-width="1.1" fill="none"/>
<rect x="659" y="2" width="1" height="20" fill="#a0a0a0"/>
<rect x="660" y="2" width="1" height="20" fill="#ffffff"/>
<rect x="676" y="6" width="1.3" height="13" fill="#505050"/>
<rect x="699" y="12" width="12" height="1.3" fill="#505050"/>
<path d="M727 18.7L739 6.8" stroke="#505050" stroke-width="1.3"/>
<path d="M752.5 16L766 5M755 20L768 9.5M753 14.5L757 19.5M757.5 11L761 15.8M762 7L765.5 12" stroke="#505050" stroke-width="1.1" fill="none"/>
<text x="763.5" y="20.5" font-size="6.5" font-weight="bold" fill="#404040">E</text>
<line x1="782" y1="5.5" x2="795" y2="5.5" stroke="#505050" stroke-width="1" stroke-dasharray="1,1"/>
<line x1="782" y1="8.5" x2="795" y2="8.5" stroke="#505050" stroke-width="1" stroke-dasharray="1,1"/>
<line x1="782" y1="12.5" x2="795" y2="12.5" stroke="#505050" stroke-width="1" stroke-dasharray="1,1"/>
<line x1="782" y1="16.5" x2="795" y2="16.5" stroke="#505050" stroke-width="1" stroke-dasharray="1,1"/>
<text x="791.5" y="20.5" font-size="6.5" font-weight="bold" fill="#404040">F</text>
<text x="816.5" y="17" font-size="12.5" fill="#505050" text-anchor="middle">A</text>
<rect x="839" y="6" width="11.5" height="12.5" fill="none" stroke="#505050" stroke-width="1" stroke-dasharray="1,1"/>
<text x="844.8" y="17" font-size="12" fill="#505050" text-anchor="middle">T</text>
<path d="M869.5 6L872.5 9.5H866.5Z M877 18.5L880 15H874Z" fill="#404040"/>
<path d="M868 13L870 15L877 8.5" stroke="#404040" stroke-width="1.4" fill="none"/>
<polygon points="886.5,11 892.5,11 889.5,14.5" fill="#000"/>
<rect x="898" y="2" width="1" height="20" fill="#a0a0a0"/>
<rect x="899" y="2" width="1" height="20" fill="#ffffff"/>
<rect x="901" y="3" width="3" height="1" fill="#a8a8a8"/>
<rect x="901" y="5" width="3" height="1" fill="#a8a8a8"/>
<rect x="901" y="7" width="3" height="1" fill="#a8a8a8"/>
<rect x="901" y="9" width="3" height="1" fill="#a8a8a8"/>
<rect x="901" y="11" width="3" height="1" fill="#a8a8a8"/>
<rect x="901" y="13" width="3" height="1" fill="#a8a8a8"/>
<rect x="901" y="15" width="3" height="1" fill="#a8a8a8"/>
<rect x="901" y="17" width="3" height="1" fill="#a8a8a8"/>
<rect x="901" y="19" width="3" height="1" fill="#a8a8a8"/>
<rect x="1076" y="0" width="25" height="22" fill="#f9f9f9"/>
<rect x="1076" y="0" width="25" height="1" fill="#a0a0a0"/>
<rect x="1076" y="0" width="1" height="22" fill="#a0a0a0"/>
<rect x="1100" y="1" width="1" height="21" fill="#ffffff"/>
<rect x="1076" y="21" width="25" height="1" fill="#ffffff"/>
<text x="913.1" y="16" font-size="10" fill="#404040" textLength="13" lengthAdjust="spacingAndGlyphs">M1</text>
<text x="941.0" y="16" font-size="10" fill="#404040" textLength="13.5" lengthAdjust="spacingAndGlyphs">M5</text>
<text x="967.0" y="16" font-size="10" fill="#404040" textLength="18.5" lengthAdjust="spacingAndGlyphs">M15</text>
<text x="995.2" y="16" font-size="10" fill="#404040" textLength="18" lengthAdjust="spacingAndGlyphs">M30</text>
<text x="1026.2" y="16" font-size="10" fill="#404040" textLength="12" lengthAdjust="spacingAndGlyphs">H1</text>
<text x="1053.0" y="16" font-size="10" fill="#404040" textLength="13" lengthAdjust="spacingAndGlyphs">H4</text>
<text x="1082.7" y="16" font-size="10" fill="#404040" textLength="12" lengthAdjust="spacingAndGlyphs">D1</text>
<text x="1110.1" y="16" font-size="10" fill="#404040" textLength="14.3" lengthAdjust="spacingAndGlyphs">W1</text>
<text x="1136.4" y="16" font-size="10" fill="#404040" textLength="15.2" lengthAdjust="spacingAndGlyphs">MN</text>
<rect x="1159" y="2" width="1" height="20" fill="#a0a0a0"/>
<rect x="1160" y="2" width="1" height="20" fill="#ffffff"/>
<path d="M1622 17L1626 12.5" stroke="#2a5fd0" stroke-width="2.6" stroke-linecap="round"/>
<circle cx="1629.3" cy="9.7" r="3.6" fill="#f4f8ff" stroke="#2a5fd0" stroke-width="1.6"/>
<path d="M1650 10.5H1657A2 2 0 0 1 1659 12.5V14A2 2 0 0 1 1657 16H1654L1651.5 18.5V16H1650A2 2 0 0 1 1648 14V12.5A2 2 0 0 1 1650 10.5Z" fill="#f6f6f6" stroke="#a0a0a0" stroke-width="0.9"/>
<path d="M1659 4.5H1666A2.5 2.5 0 0 1 1668.5 7V10A2.5 2.5 0 0 1 1666 12.5H1665.5V15L1662.5 12.5H1659A2.5 2.5 0 0 1 1656.5 10V7A2.5 2.5 0 0 1 1659 4.5Z" fill="#ececec" stroke="#a0a0a0" stroke-width="0.9"/>
<rect x="2" y="48" width="52" height="25" fill="#1414c8"/>
<rect x="169" y="48" width="52" height="25" fill="#1414c8"/>
<rect x="2" y="72" width="109" height="40" fill="#0808b0"/>
<rect x="113" y="72" width="108" height="40" fill="#0808b0"/>
<rect x="3" y="49" width="50.5" height="24" fill="url(#gBtn)"/>
<rect x="169.5" y="49" width="50.5" height="24" fill="url(#gBtn)"/>
<rect x="3" y="73" width="107.5" height="38.5" fill="url(#gPrice)"/>
<rect x="113.5" y="73" width="106.5" height="38.5" fill="url(#gPrice)"/>
<rect x="3" y="72" width="50.5" height="1" fill="#3a3aea"/>
<rect x="169.5" y="72" width="50.5" height="1" fill="#3a3aea"/>
<rect x="6" y="71" width="44" height="1" fill="#2222c4"/>
<rect x="6" y="72" width="44" height="1" fill="#8c8cff"/>
<rect x="173" y="71" width="44" height="1" fill="#2222c4"/>
<rect x="173" y="72" width="44" height="1" fill="#8c8cff"/>
<text x="14.3" y="63.9" font-size="12.3" fill="#f0f0ff" textLength="25.6" lengthAdjust="spacingAndGlyphs">SELL</text>
<text x="182.5" y="63.9" font-size="12.3" fill="#f0f0ff" textLength="23" lengthAdjust="spacingAndGlyphs">BUY</text>
<rect x="56.5" y="48.5" width="110" height="21" fill="#fff" stroke="#b8b8b8" stroke-width="1"/>
<rect x="57" y="49" width="20" height="20" fill="#ececec"/>
<rect x="77" y="49" width="1" height="20" fill="#c4c4c4"/>
<rect x="146" y="49" width="20" height="20" fill="#ececec"/>
<rect x="145" y="49" width="1" height="20" fill="#c4c4c4"/>
<polygon points="64,57.5 70,57.5 67,60.8" fill="#000"/>
<polygon points="152.5,60.3 158.5,60.3 155.5,57" fill="#000"/>
<text x="141.8" y="63" font-size="12" fill="#000" text-anchor="end">1.00</text>
<text x="18.2" y="102.9" font-size="12" font-weight="bold" fill="#fff" textLength="34.2" lengthAdjust="spacingAndGlyphs">27101</text>
<text x="55.5" y="103.4" font-size="33.4" fill="#fff" textLength="25.5" lengthAdjust="spacingAndGlyphs">.5</text>
<text x="128" y="102.9" font-size="12" font-weight="bold" fill="#fff" textLength="35.4" lengthAdjust="spacingAndGlyphs">27114</text>
<text x="167" y="103.4" font-size="33.4" fill="#fff" textLength="25.5" lengthAdjust="spacingAndGlyphs">.5</text>
</svg>
</body></html>
